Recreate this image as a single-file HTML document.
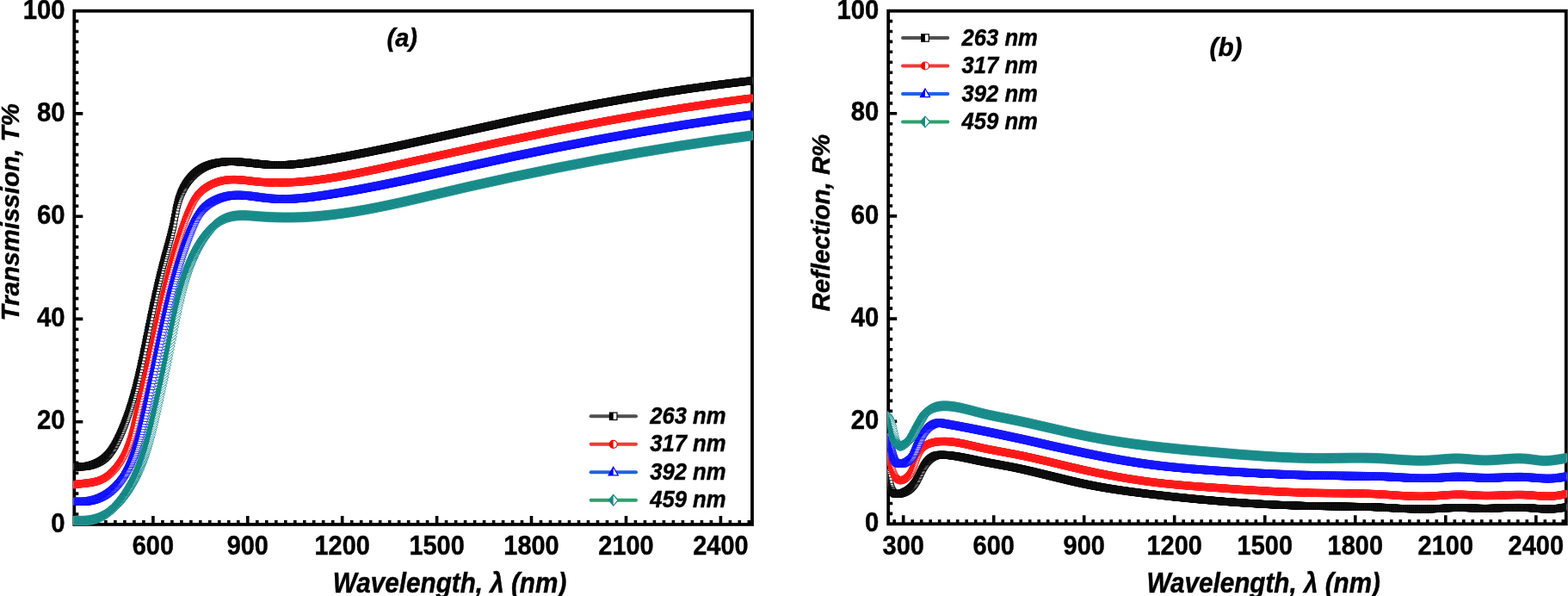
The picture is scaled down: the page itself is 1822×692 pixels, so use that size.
<!DOCTYPE html>
<html><head><meta charset="utf-8"><title>Transmission and Reflection spectra</title>
<style>
html,body{margin:0;padding:0;background:#fff;}
body{width:1822px;height:692px;overflow:hidden;}
svg{display:block;}
text{font-family:"Liberation Sans",Arial,sans-serif;font-weight:bold;fill:#000;stroke:#000;stroke-width:0.45px;}
.it{font-style:italic;}
</style></head><body>
<svg width="1822" height="692" viewBox="0 0 1822 692">
<defs>
<clipPath id="ca"><rect x="85.7" y="12.7" width="788.7" height="597.1"/></clipPath>
<clipPath id="cb"><rect x="1031.6" y="12.7" width="788.6" height="596.5"/></clipPath>
<marker id="mk" markerUnits="userSpaceOnUse" markerWidth="1" markerHeight="1" refX="0" refY="0" orient="0" overflow="visible"><rect x="-3.55" y="-3.85" width="7.10" height="7.70" fill="#fff" stroke="#000000" stroke-width="0.9"/><rect x="-3.55" y="-3.85" width="3.55" height="7.70" fill="#0a0a0a"/></marker>
<marker id="mr" markerUnits="userSpaceOnUse" markerWidth="1" markerHeight="1" refX="0" refY="0" orient="0" overflow="visible"><ellipse rx="3.80" ry="4.20" fill="#fff" stroke="#ff0000" stroke-width="0.8"/><path d="M0,-4.20A3.80,4.20 0 0 0 0,4.20Z" fill="#ff1010"/></marker>
<marker id="mb" markerUnits="userSpaceOnUse" markerWidth="1" markerHeight="1" refX="0" refY="0" orient="0" overflow="visible"><path d="M0,-5.40L5.56,3.60L-5.56,3.60Z" fill="#fff" stroke="#0000ff" stroke-width="0.8" stroke-linejoin="miter"/><path d="M0,-5.40L0,3.60L-5.56,3.60Z" fill="#0a0aff"/></marker>
<marker id="mt" markerUnits="userSpaceOnUse" markerWidth="1" markerHeight="1" refX="0" refY="0" orient="0" overflow="visible"><path d="M0,-5.56L6.16,0L0,5.56L-6.16,0Z" fill="#fff" stroke="#008080" stroke-width="0.8" stroke-linejoin="miter"/><path d="M0,-5.56L0,5.56L-6.16,0Z" fill="#0c8481"/></marker>
</defs>

<g stroke="#000" stroke-width="3.6" fill="none">
<path d="M86.3,597.0h5.0M86.3,585.1h5.0M86.3,573.1h5.0M86.3,561.2h5.0M86.3,549.3h5.0M86.3,537.4h5.0M86.3,525.4h5.0M86.3,513.5h5.0M86.3,501.6h5.0M86.3,489.7h10.0M86.3,477.7h5.0M86.3,465.8h5.0M86.3,453.9h5.0M86.3,442.0h5.0M86.3,430.0h5.0M86.3,418.1h5.0M86.3,406.2h5.0M86.3,394.3h5.0M86.3,382.3h5.0M86.3,370.4h10.0M86.3,358.5h5.0M86.3,346.6h5.0M86.3,334.6h5.0M86.3,322.7h5.0M86.3,310.8h5.0M86.3,298.9h5.0M86.3,287.0h5.0M86.3,275.0h5.0M86.3,263.1h5.0M86.3,251.2h10.0M86.3,239.3h5.0M86.3,227.3h5.0M86.3,215.4h5.0M86.3,203.5h5.0M86.3,191.6h5.0M86.3,179.6h5.0M86.3,167.7h5.0M86.3,155.8h5.0M86.3,143.9h5.0M86.3,131.9h10.0M86.3,120.0h5.0M86.3,108.1h5.0M86.3,96.2h5.0M86.3,84.2h5.0M86.3,72.3h5.0M86.3,60.4h5.0M86.3,48.5h5.0M86.3,36.5h5.0M86.3,24.6h5.0M90.0,608.9v-5.0M101.0,608.9v-5.0M111.9,608.9v-5.0M122.9,608.9v-5.0M133.9,608.9v-5.0M144.9,608.9v-5.0M155.9,608.9v-5.0M166.9,608.9v-5.0M177.9,608.9v-10.0M188.9,608.9v-5.0M199.9,608.9v-5.0M210.9,608.9v-5.0M221.9,608.9v-5.0M232.8,608.9v-5.0M243.8,608.9v-5.0M254.8,608.9v-5.0M265.8,608.9v-5.0M276.8,608.9v-5.0M287.8,608.9v-10.0M298.8,608.9v-5.0M309.8,608.9v-5.0M320.8,608.9v-5.0M331.8,608.9v-5.0M342.8,608.9v-5.0M353.8,608.9v-5.0M364.7,608.9v-5.0M375.7,608.9v-5.0M386.7,608.9v-5.0M397.7,608.9v-10.0M408.7,608.9v-5.0M419.7,608.9v-5.0M430.7,608.9v-5.0M441.7,608.9v-5.0M452.7,608.9v-5.0M463.7,608.9v-5.0M474.7,608.9v-5.0M485.6,608.9v-5.0M496.6,608.9v-5.0M507.6,608.9v-10.0M518.6,608.9v-5.0M529.6,608.9v-5.0M540.6,608.9v-5.0M551.6,608.9v-5.0M562.6,608.9v-5.0M573.6,608.9v-5.0M584.6,608.9v-5.0M595.6,608.9v-5.0M606.5,608.9v-5.0M617.5,608.9v-10.0M628.5,608.9v-5.0M639.5,608.9v-5.0M650.5,608.9v-5.0M661.5,608.9v-5.0M672.5,608.9v-5.0M683.5,608.9v-5.0M694.5,608.9v-5.0M705.5,608.9v-5.0M716.5,608.9v-5.0M727.5,608.9v-10.0M738.4,608.9v-5.0M749.4,608.9v-5.0M760.4,608.9v-5.0M771.4,608.9v-5.0M782.4,608.9v-5.0M793.4,608.9v-5.0M804.4,608.9v-5.0M815.4,608.9v-5.0M826.4,608.9v-5.0M837.4,608.9v-10.0M848.4,608.9v-5.0M859.3,608.9v-5.0M870.3,608.9v-5.0"/>
</g>
<rect x="86.3" y="12.7" width="787.7" height="596.2" fill="none" stroke="#000" stroke-width="3.8"/>
<g clip-path="url(#ca)">
<path d="M83.87,541.19l.73,.14l.73,.12l.73,.11l.73,.10l.73,.08l.73,.07l.73,.06l.73,.05l.73,.04l.73,.02l.73,.01l.73,.00l.73,-.01l.73,-.02l.73,-.03l.73,-.04l.73,-.05l.73,-.06l.73,-.07l.73,-.09l.73,-.10l.73,-.11l.73,-.12l.73,-.13l.73,-.14l.73,-.15l.73,-.16l.73,-.18l.73,-.19l.73,-.20l.73,-.21l.73,-.22l.73,-.24l.73,-.25l.73,-.26l.73,-.28l.73,-.29l.73,-.31l.73,-.32l.73,-.34l.73,-.36l.75,-.38l.75,-.40l.75,-.42l.75,-.44l.75,-.46l.75,-.49l.75,-.52l.76,-.55l.76,-.58l.76,-.61l.76,-.65l.76,-.68l.76,-.72l.76,-.76l.76,-.80l.77,-.85l.77,-.89l.77,-.94l.77,-.99l.77,-1.04l.77,-1.09l.77,-1.14l.77,-1.20l.77,-1.25l.77,-1.30l.77,-1.34l.76,-1.38l.76,-1.42l.75,-1.45l.73,-1.48l.73,-1.51l.73,-1.54l.73,-1.57l.73,-1.60l.73,-1.64l.73,-1.67l.73,-1.71l.73,-1.74l.73,-1.78l.73,-1.82l.73,-1.86l.73,-1.90l.73,-1.95l.73,-1.99l.73,-2.04l.73,-2.08l.73,-2.13l.73,-2.18l.73,-2.23l.73,-2.29l.73,-2.34l.73,-2.40l.73,-2.45l.73,-2.51l.73,-2.57l.73,-2.64l.73,-2.70l.73,-2.76l.73,-2.83l.73,-2.89l.73,-2.96l.73,-3.02l.73,-3.09l.73,-3.15l.73,-3.22l.73,-3.28l.73,-3.33l.73,-3.39l.73,-3.44l.73,-3.49l.73,-3.53l.73,-3.56l.73,-3.58l.73,-3.60l.73,-3.61l.73,-3.62l.73,-3.62l.73,-3.62l.73,-3.61l.73,-3.60l.73,-3.59l.73,-3.57l.73,-3.55l.73,-3.53l.73,-3.50l.73,-3.47l.73,-3.44l.73,-3.40l.73,-3.36l.73,-3.33l.73,-3.29l.73,-3.24l.73,-3.20l.73,-3.16l.73,-3.12l.73,-3.08l.73,-3.03l.73,-2.99l.73,-2.95l.73,-2.91l.73,-2.87l.73,-2.82l.73,-2.78l.73,-2.75l.73,-2.71l.73,-2.68l.73,-2.65l.73,-2.64l.73,-2.64l.73,-2.65l.73,-2.67l.73,-2.70l.73,-2.74l.73,-2.79l.73,-2.86l.73,-2.95l.73,-3.07l.73,-3.22l.73,-3.43l.73,-3.70l.73,-3.89l.73,-3.93l.73,-3.78l.73,-3.50l.73,-3.17l.73,-2.85l.73,-2.56l.73,-2.31l.73,-2.10l.73,-1.92l.73,-1.77l.73,-1.63l.73,-1.52l.68,-1.43l.68,-1.35l.69,-1.28l.69,-1.21l.69,-1.16l.70,-1.11l.70,-1.06l.70,-1.02l.71,-.98l.71,-.95l.71,-.91l.71,-.88l.71,-.85l.71,-.82l.71,-.79l.71,-.76l.71,-.74l.72,-.71l.72,-.69l.72,-.67l.72,-.65l.72,-.62l.72,-.60l.72,-.58l.72,-.56l.72,-.54l.72,-.52l.72,-.50l.72,-.48l.72,-.47l.72,-.45l.72,-.43l.72,-.41l.72,-.40l.72,-.38l.73,-.37l.73,-.35l.73,-.34l.73,-.32l.73,-.31l.73,-.30l.73,-.29l.73,-.27l.73,-.26l.73,-.25l.73,-.24l.73,-.23l.73,-.22l.73,-.21l.73,-.20l.73,-.19l.73,-.18l.73,-.17l.73,-.16l.73,-.15l.73,-.15l.73,-.14l.73,-.13l.73,-.12l.73,-.12l.73,-.11l.73,-.10l.73,-.09l.73,-.09l.73,-.08l.73,-.07l.73,-.07l.73,-.06l.73,-.06l.73,-.05l.73,-.04l.73,-.04l.73,-.03l.73,-.03l.73,-.02l.73,-.02l.73,-.01l.73,-.01l.73,-.00l.73,.00l.73,.01l.73,.01l.73,.02l.73,.02l.73,.02l.73,.03l.73,.03l.73,.04l.73,.04l.73,.04l.73,.05l.73,.05l.73,.05l.73,.06l.73,.06l.73,.06l.73,.06l.73,.07l.73,.07l.73,.07l.73,.07l.73,.07l.73,.07l.73,.08l.73,.08l.73,.08l.73,.08l.73,.08l.73,.08l.73,.08l.73,.08l.73,.08l.73,.08l.73,.08l.73,.08l.73,.08l.73,.08l.73,.08l.73,.08l.73,.08l.73,.08l.73,.08l.73,.08l.73,.08l.73,.07l.73,.07l.73,.07l.73,.07l.73,.07l.73,.07l.73,.06l.73,.06l.73,.06l.73,.06l.73,.06l.73,.05l.73,.05l.73,.05l.73,.05l.73,.04l.73,.04l.73,.04l.73,.03l.73,.03l.73,.03l.73,.02l.73,.02l.73,.02l.73,.01l.73,.01l.73,.01l.73,.01l.73,.00l.73,-.00l.73,-.00l.73,-.01l.73,-.01l.73,-.01l.73,-.01l.73,-.02l.73,-.02l.73,-.02l.73,-.03l.73,-.03l.73,-.03l.73,-.03l.73,-.04l.73,-.04l.73,-.04l.73,-.04l.73,-.05l.73,-.05l.73,-.05l.73,-.05l.73,-.05l.73,-.06l.73,-.06l.73,-.06l.73,-.06l.73,-.07l.73,-.07l.73,-.07l.73,-.07l.73,-.07l.73,-.08l.73,-.08l.73,-.08l.73,-.08l.73,-.08l.73,-.08l.73,-.09l.73,-.09l.73,-.09l.73,-.09l.73,-.09l.73,-.09l.73,-.09l.73,-.10l.73,-.10l.73,-.10l.73,-.10l.73,-.10l.73,-.10l.73,-.10l.73,-.11l.73,-.11l.73,-.11l.73,-.11l.73,-.11l.73,-.11l.73,-.11l.73,-.11l.73,-.11l.73,-.11l.73,-.11l.73,-.12l.73,-.12l.73,-.12l.73,-.12l.73,-.12l.73,-.12l.73,-.12l.73,-.12l.73,-.12l.73,-.12l.73,-.12l.73,-.12l.73,-.12l.73,-.12l.73,-.12l.73,-.12l.73,-.12l.73,-.12l.73,-.12l.73,-.12l.73,-.12l.73,-.12l.73,-.13l.73,-.13l.73,-.13l.73,-.13l.73,-.13l.73,-.13l.73,-.13l.73,-.13l.73,-.13l.73,-.13l.73,-.13l.73,-.13l.73,-.13l.73,-.13l.73,-.13l.73,-.13l.73,-.13l.73,-.13l.73,-.13l.73,-.13l.73,-.13l.73,-.13l.73,-.13l.73,-.13l.73,-.13l.73,-.13l.73,-.13l.73,-.13l.73,-.14l.73,-.14l.73,-.14l.73,-.14l.73,-.14l.73,-.14l.73,-.14l.73,-.14l.73,-.14l.73,-.14l.73,-.14l.73,-.14l.73,-.14l.73,-.14l.73,-.14l.73,-.14l.73,-.14l.73,-.14l.73,-.14l.73,-.14l.73,-.14l.73,-.14l.73,-.14l.73,-.14l.73,-.14l.73,-.14l.73,-.14l.73,-.14l.73,-.14l.73,-.14l.73,-.14l.73,-.14l.73,-.14l.73,-.15l.73,-.15l.73,-.15l.73,-.15l.73,-.15l.73,-.15l.73,-.15l.73,-.15l.73,-.15l.73,-.15l.73,-.15l.73,-.15l.73,-.15l.73,-.15l.73,-.15l.73,-.15l.73,-.15l.73,-.15l.73,-.15l.73,-.15l.73,-.15l.73,-.15l.73,-.15l.73,-.15l.73,-.15l.73,-.15l.73,-.15l.73,-.15l.73,-.15l.73,-.15l.73,-.15l.73,-.15l.73,-.15l.73,-.15l.73,-.15l.73,-.15l.73,-.15l.73,-.15l.73,-.15l.73,-.15l.73,-.15l.73,-.15l.73,-.15l.73,-.15l.73,-.16l.73,-.16l.73,-.16l.73,-.16l.73,-.16l.73,-.16l.73,-.16l.73,-.16l.73,-.16l.73,-.16l.73,-.16l.73,-.16l.73,-.16l.73,-.16l.73,-.16l.73,-.16l.73,-.16l.73,-.16l.73,-.16l.73,-.16l.73,-.16l.73,-.16l.73,-.16l.73,-.16l.73,-.16l.73,-.16l.73,-.16l.73,-.16l.73,-.16l.73,-.16l.73,-.16l.73,-.16l.73,-.16l.73,-.16l.73,-.16l.73,-.16l.73,-.16l.73,-.16l.73,-.16l.73,-.16l.73,-.16l.73,-.16l.73,-.16l.73,-.16l.73,-.16l.73,-.16l.73,-.16l.73,-.16l.73,-.16l.73,-.16l.73,-.16l.73,-.16l.73,-.16l.73,-.16l.73,-.16l.73,-.16l.73,-.16l.73,-.16l.73,-.16l.73,-.16l.73,-.16l.73,-.16l.73,-.16l.73,-.16l.73,-.16l.73,-.16l.73,-.16l.73,-.16l.73,-.16l.73,-.16l.73,-.16l.73,-.16l.73,-.16l.73,-.16l.73,-.16l.73,-.16l.73,-.16l.73,-.16l.73,-.16l.73,-.16l.73,-.16l.73,-.16l.73,-.16l.73,-.16l.73,-.16l.73,-.16l.73,-.16l.73,-.16l.73,-.16l.73,-.16l.73,-.16l.73,-.16l.73,-.16l.73,-.16l.73,-.16l.73,-.16l.73,-.16l.73,-.16l.73,-.16l.73,-.16l.73,-.16l.73,-.16l.73,-.16l.73,-.16l.73,-.16l.73,-.16l.73,-.16l.73,-.16l.73,-.16l.73,-.16l.73,-.16l.73,-.16l.73,-.16l.73,-.16l.73,-.16l.73,-.16l.73,-.16l.73,-.16l.73,-.16l.73,-.16l.73,-.16l.73,-.16l.73,-.16l.73,-.16l.73,-.16l.73,-.16l.73,-.16l.73,-.16l.73,-.16l.73,-.16l.73,-.16l.73,-.16l.73,-.16l.73,-.16l.73,-.16l.73,-.16l.73,-.16l.73,-.16l.73,-.16l.73,-.16l.73,-.16l.73,-.16l.73,-.16l.73,-.16l.73,-.16l.73,-.16l.73,-.16l.73,-.16l.73,-.16l.73,-.16l.73,-.16l.73,-.16l.73,-.16l.73,-.16l.73,-.16l.73,-.16l.73,-.16l.73,-.16l.73,-.16l.73,-.16l.73,-.16l.73,-.16l.73,-.16l.73,-.16l.73,-.16l.73,-.16l.73,-.16l.73,-.16l.73,-.16l.73,-.16l.73,-.16l.73,-.16l.73,-.16l.73,-.16l.73,-.16l.73,-.16l.73,-.16l.73,-.16l.73,-.16l.73,-.16l.73,-.16l.73,-.16l.73,-.16l.73,-.16l.73,-.16l.73,-.16l.73,-.16l.73,-.16l.73,-.16l.73,-.16l.73,-.16l.73,-.16l.73,-.16l.73,-.16l.73,-.15l.73,-.15l.73,-.15l.73,-.15l.73,-.15l.73,-.15l.73,-.15l.73,-.15l.73,-.15l.73,-.15l.73,-.15l.73,-.15l.73,-.15l.73,-.15l.73,-.15l.73,-.15l.73,-.15l.73,-.15l.73,-.15l.73,-.15l.73,-.15l.73,-.15l.73,-.15l.73,-.15l.73,-.15l.73,-.15l.73,-.15l.73,-.15l.73,-.15l.73,-.15l.73,-.15l.73,-.15l.73,-.15l.73,-.15l.73,-.15l.73,-.15l.73,-.15l.73,-.15l.73,-.15l.73,-.15l.73,-.15l.73,-.15l.73,-.15l.73,-.15l.73,-.15l.73,-.15l.73,-.15l.73,-.15l.73,-.15l.73,-.15l.73,-.15l.73,-.15l.73,-.15l.73,-.15l.73,-.15l.73,-.15l.73,-.15l.73,-.15l.73,-.15l.73,-.15l.73,-.15l.73,-.15l.73,-.15l.73,-.15l.73,-.15l.73,-.15l.73,-.14l.73,-.14l.73,-.14l.73,-.14l.73,-.14l.73,-.14l.73,-.14l.73,-.14l.73,-.14l.73,-.14l.73,-.14l.73,-.14l.73,-.14l.73,-.14l.73,-.14l.73,-.14l.73,-.14l.73,-.14l.73,-.14l.73,-.14l.73,-.14l.73,-.14l.73,-.14l.73,-.14l.73,-.14l.73,-.14l.73,-.14l.73,-.14l.73,-.14l.73,-.14l.73,-.14l.73,-.14l.73,-.14l.73,-.14l.73,-.14l.73,-.14l.73,-.14l.73,-.14l.73,-.14l.73,-.14l.73,-.14l.73,-.14l.73,-.14l.73,-.14l.73,-.14l.73,-.14l.73,-.14l.73,-.14l.73,-.14l.73,-.14l.73,-.14l.73,-.14l.73,-.14l.73,-.14l.73,-.14l.73,-.14l.73,-.14l.73,-.14l.73,-.13l.73,-.13l.73,-.13l.73,-.13l.73,-.13l.73,-.13l.73,-.13l.73,-.13l.73,-.13l.73,-.13l.73,-.13l.73,-.13l.73,-.13l.73,-.13l.73,-.13l.73,-.13l.73,-.13l.73,-.13l.73,-.13l.73,-.13l.73,-.13l.73,-.13l.73,-.13l.73,-.13l.73,-.13l.73,-.13l.73,-.13l.73,-.13l.73,-.13l.73,-.13l.73,-.13l.73,-.13l.73,-.13l.73,-.13l.73,-.13l.73,-.13l.73,-.13l.73,-.13l.73,-.13l.73,-.13l.73,-.13l.73,-.13l.73,-.13l.73,-.13l.73,-.13l.73,-.13l.73,-.13l.73,-.13l.73,-.13l.73,-.13l.73,-.13l.73,-.13l.73,-.12l.73,-.12l.73,-.12l.73,-.12l.73,-.12l.73,-.12l.73,-.12l.73,-.12l.73,-.12l.73,-.12l.73,-.12l.73,-.12l.73,-.12l.73,-.12l.73,-.12l.73,-.12l.73,-.12l.73,-.12l.73,-.12l.73,-.12l.73,-.12l.73,-.12l.73,-.12l.73,-.12l.73,-.12l.73,-.12l.73,-.12l.73,-.12l.73,-.12l.73,-.12l.73,-.12l.73,-.12l.73,-.12l.73,-.12l.73,-.12l.73,-.12l.73,-.12l.73,-.12l.73,-.12l.73,-.12l.73,-.12l.73,-.12l.73,-.12l.73,-.12l.73,-.12l.73,-.12l.73,-.12l.73,-.12l.73,-.12l.73,-.11l.73,-.11l.73,-.11l.73,-.11l.73,-.11l.73,-.11l.73,-.11l.73,-.11l.73,-.11l.73,-.11l.73,-.11l.73,-.11l.73,-.11l.73,-.11l.73,-.11l.73,-.11l.73,-.11l.73,-.11l.73,-.11l.73,-.11l.73,-.11l.73,-.11l.73,-.11l.73,-.11l.73,-.11l.73,-.11l.73,-.11l.73,-.11l.73,-.11l.73,-.11l.73,-.11l.73,-.11l.73,-.11l.73,-.11l.73,-.11l.73,-.11l.73,-.11l.73,-.11l.73,-.11l.73,-.11l.73,-.11l.73,-.11l.73,-.11l.73,-.11l.73,-.11l.73,-.11l.73,-.10l.73,-.10l.73,-.10l.73,-.10l.73,-.10l.73,-.10l.73,-.10l.73,-.10l.73,-.10l.73,-.10l.73,-.10l.73,-.10l.73,-.10l.73,-.10l.73,-.10l.73,-.10l.73,-.10l.73,-.10l.73,-.10l.73,-.10l.73,-.10l.73,-.10l.73,-.10l.73,-.10l.73,-.10l.73,-.10l.73,-.10l.73,-.10l.73,-.10l.73,-.10l.73,-.10l.73,-.10l.73,-.10l.73,-.10l.73,-.10l.73,-.10l.73,-.10l.73,-.10l.73,-.10l.73,-.10l.73,-.10l.73,-.10l.73,-.10l.73,-.10l.73,-.09l.73,-.09l.73,-.09l.73,-.09l.73,-.09l.73,-.09l.73,-.09l.73,-.09l.73,-.09l.73,-.09l.73,-.09l.73,-.09l.73,-.09l.73,-.09l.73,-.09l.73,-.09l.73,-.09l.73,-.09l.73,-.09l.73,-.09l.73,-.09l.73,-.09l.73,-.09l.73,-.09l.73,-.09l.73,-.09l.73,-.09l.73,-.09l.73,-.09l.73,-.09l.73,-.09l.73,-.09l.73,-.09l.73,-.09l.73,-.09l.73,-.09l.73,-.09l.73,-.09l.73,-.09l.73,-.09l.73,-.09l.73,-.09l.73,-.08l.73,-.08l.73,-.08l.73,-.08l.73,-.08l.73,-.08l.73,-.08l.73,-.08l.73,-.08l.73,-.08l.73,-.08l.73,-.08l.73,-.08l.73,-.08l.73,-.08l.73,-.08l.73,-.08l.73,-.08l.73,-.08l.73,-.08l.73,-.08l.73,-.08l.73,-.08l.73,-.08" fill="none" stroke="none" marker-start="url(#mk)" marker-mid="url(#mk)" marker-end="url(#mk)"/>
<path d="M83.78,563.10l.73,-.13l.73,-.12l.73,-.12l.73,-.11l.73,-.11l.73,-.10l.73,-.10l.73,-.09l.73,-.09l.73,-.09l.73,-.08l.73,-.08l.73,-.08l.73,-.08l.73,-.08l.73,-.08l.73,-.08l.73,-.08l.73,-.08l.73,-.08l.73,-.08l.73,-.08l.73,-.08l.73,-.09l.73,-.09l.73,-.09l.73,-.10l.73,-.10l.73,-.11l.73,-.12l.73,-.12l.73,-.13l.73,-.14l.73,-.14l.73,-.15l.73,-.16l.73,-.17l.73,-.19l.73,-.20l.73,-.21l.73,-.22l.73,-.24l.73,-.26l.73,-.27l.73,-.29l.73,-.31l.73,-.33l.73,-.35l.76,-.38l.77,-.40l.77,-.43l.77,-.45l.77,-.48l.77,-.50l.77,-.53l.77,-.56l.77,-.58l.77,-.61l.77,-.64l.77,-.67l.77,-.70l.77,-.72l.77,-.76l.78,-.79l.78,-.82l.78,-.85l.78,-.88l.78,-.92l.78,-.95l.78,-.99l.78,-1.02l.78,-1.06l.78,-1.10l.79,-1.13l.79,-1.17l.79,-1.21l.79,-1.26l.80,-1.30l.80,-1.35l.80,-1.40l.79,-1.45l.73,-1.51l.73,-1.57l.73,-1.64l.73,-1.71l.73,-1.79l.73,-1.87l.73,-1.96l.73,-2.06l.73,-2.16l.73,-2.27l.73,-2.38l.73,-2.50l.73,-2.62l.73,-2.74l.73,-2.86l.73,-2.96l.73,-3.05l.73,-3.12l.73,-3.16l.73,-3.17l.73,-3.15l.73,-3.13l.73,-3.12l.73,-3.11l.73,-3.10l.73,-3.09l.73,-3.09l.73,-3.10l.73,-3.11l.73,-3.12l.73,-3.13l.73,-3.15l.73,-3.17l.73,-3.20l.73,-3.23l.73,-3.25l.73,-3.28l.73,-3.30l.73,-3.32l.73,-3.34l.73,-3.36l.73,-3.37l.73,-3.38l.73,-3.39l.73,-3.40l.73,-3.41l.73,-3.41l.73,-3.41l.73,-3.40l.73,-3.40l.73,-3.39l.73,-3.38l.73,-3.36l.73,-3.35l.73,-3.33l.73,-3.31l.73,-3.29l.73,-3.26l.73,-3.24l.73,-3.21l.73,-3.18l.73,-3.15l.73,-3.12l.73,-3.08l.73,-3.05l.73,-3.02l.73,-2.98l.73,-2.94l.73,-2.91l.73,-2.87l.73,-2.84l.73,-2.80l.73,-2.77l.73,-2.73l.73,-2.69l.73,-2.66l.73,-2.62l.73,-2.59l.73,-2.55l.73,-2.52l.73,-2.49l.73,-2.45l.73,-2.42l.73,-2.39l.73,-2.36l.73,-2.33l.73,-2.30l.73,-2.27l.73,-2.24l.73,-2.21l.73,-2.18l.73,-2.15l.73,-2.13l.73,-2.10l.73,-2.08l.73,-2.05l.73,-2.01l.73,-1.96l.73,-1.91l.73,-1.85l.73,-1.79l.73,-1.73l.73,-1.67l.73,-1.61l.73,-1.55l.72,-1.48l.65,-1.42l.65,-1.36l.65,-1.31l.65,-1.25l.66,-1.19l.66,-1.14l.66,-1.08l.67,-1.04l.67,-.99l.67,-.94l.68,-.90l.68,-.86l.68,-.82l.68,-.78l.69,-.75l.69,-.72l.69,-.68l.69,-.65l.70,-.63l.70,-.60l.70,-.58l.70,-.56l.71,-.54l.71,-.52l.71,-.50l.71,-.48l.71,-.46l.71,-.45l.71,-.43l.71,-.42l.71,-.40l.71,-.39l.71,-.38l.73,-.36l.73,-.35l.73,-.34l.73,-.33l.73,-.31l.73,-.30l.73,-.29l.73,-.28l.73,-.27l.73,-.26l.73,-.24l.73,-.23l.73,-.22l.73,-.21l.73,-.20l.73,-.19l.73,-.18l.73,-.17l.73,-.16l.73,-.15l.73,-.14l.73,-.13l.73,-.12l.73,-.11l.73,-.10l.73,-.09l.73,-.08l.73,-.07l.73,-.06l.73,-.05l.73,-.05l.73,-.04l.73,-.03l.73,-.02l.73,-.02l.73,-.01l.73,-.00l.73,.00l.73,.01l.73,.02l.73,.02l.73,.03l.73,.03l.73,.04l.73,.04l.73,.05l.73,.05l.73,.05l.73,.06l.73,.06l.73,.06l.73,.07l.73,.07l.73,.07l.73,.08l.73,.08l.73,.08l.73,.08l.73,.08l.73,.08l.73,.08l.73,.09l.73,.09l.73,.09l.73,.09l.73,.09l.73,.09l.73,.08l.73,.08l.73,.08l.73,.08l.73,.08l.73,.08l.73,.08l.73,.07l.73,.07l.73,.07l.73,.07l.73,.06l.73,.06l.73,.06l.73,.06l.73,.05l.73,.05l.73,.05l.73,.05l.73,.04l.73,.04l.73,.04l.73,.04l.73,.04l.73,.03l.73,.03l.73,.03l.73,.03l.73,.02l.73,.02l.73,.02l.73,.02l.73,.02l.73,.01l.73,.01l.73,.01l.73,.01l.73,.01l.73,.00l.73,.00l.73,-.00l.73,-.00l.73,-.00l.73,-.01l.73,-.01l.73,-.01l.73,-.01l.73,-.01l.73,-.02l.73,-.02l.73,-.02l.73,-.02l.73,-.02l.73,-.02l.73,-.03l.73,-.03l.73,-.03l.73,-.03l.73,-.03l.73,-.03l.73,-.04l.73,-.04l.73,-.04l.73,-.04l.73,-.04l.73,-.04l.73,-.05l.73,-.05l.73,-.05l.73,-.05l.73,-.05l.73,-.05l.73,-.05l.73,-.06l.73,-.06l.73,-.06l.73,-.06l.73,-.06l.73,-.06l.73,-.06l.73,-.07l.73,-.07l.73,-.07l.73,-.07l.73,-.07l.73,-.07l.73,-.07l.73,-.07l.73,-.08l.73,-.08l.73,-.08l.73,-.08l.73,-.08l.73,-.08l.73,-.08l.73,-.08l.73,-.09l.73,-.09l.73,-.09l.73,-.09l.73,-.09l.73,-.09l.73,-.09l.73,-.09l.73,-.09l.73,-.10l.73,-.10l.73,-.10l.73,-.10l.73,-.10l.73,-.10l.73,-.10l.73,-.10l.73,-.10l.73,-.11l.73,-.11l.73,-.11l.73,-.11l.73,-.11l.73,-.11l.73,-.11l.73,-.11l.73,-.11l.73,-.11l.73,-.12l.73,-.12l.73,-.12l.73,-.12l.73,-.12l.73,-.12l.73,-.12l.73,-.12l.73,-.12l.73,-.12l.73,-.12l.73,-.12l.73,-.13l.73,-.13l.73,-.13l.73,-.13l.73,-.13l.73,-.13l.73,-.13l.73,-.13l.73,-.13l.73,-.13l.73,-.13l.73,-.13l.73,-.13l.73,-.13l.73,-.14l.73,-.14l.73,-.14l.73,-.14l.73,-.14l.73,-.14l.73,-.14l.73,-.14l.73,-.14l.73,-.14l.73,-.14l.73,-.14l.73,-.14l.73,-.14l.73,-.14l.73,-.14l.73,-.14l.73,-.14l.73,-.15l.73,-.15l.73,-.15l.73,-.15l.73,-.15l.73,-.15l.73,-.15l.73,-.15l.73,-.15l.73,-.15l.73,-.15l.73,-.15l.73,-.15l.73,-.15l.73,-.15l.73,-.15l.73,-.15l.73,-.15l.73,-.15l.73,-.15l.73,-.15l.73,-.15l.73,-.15l.73,-.15l.73,-.15l.73,-.15l.73,-.15l.73,-.15l.73,-.15l.73,-.15l.73,-.16l.73,-.16l.73,-.16l.73,-.16l.73,-.16l.73,-.16l.73,-.16l.73,-.16l.73,-.16l.73,-.16l.73,-.16l.73,-.16l.73,-.16l.73,-.16l.73,-.16l.73,-.16l.73,-.16l.73,-.16l.73,-.16l.73,-.16l.73,-.16l.73,-.16l.73,-.16l.73,-.16l.73,-.16l.73,-.16l.73,-.16l.73,-.16l.73,-.16l.73,-.16l.73,-.16l.73,-.16l.73,-.16l.73,-.16l.73,-.16l.73,-.16l.73,-.16l.73,-.16l.73,-.16l.73,-.16l.73,-.16l.73,-.16l.73,-.16l.73,-.16l.73,-.16l.73,-.16l.73,-.16l.73,-.16l.73,-.16l.73,-.16l.73,-.16l.73,-.16l.73,-.16l.73,-.16l.73,-.16l.73,-.16l.73,-.16l.73,-.16l.73,-.16l.73,-.16l.73,-.16l.73,-.16l.73,-.16l.73,-.16l.73,-.16l.73,-.16l.73,-.16l.73,-.16l.73,-.16l.73,-.16l.73,-.16l.73,-.16l.73,-.16l.73,-.16l.73,-.16l.73,-.16l.73,-.16l.73,-.16l.73,-.16l.73,-.16l.73,-.16l.73,-.16l.73,-.16l.73,-.16l.73,-.16l.73,-.16l.73,-.16l.73,-.16l.73,-.16l.73,-.16l.73,-.16l.73,-.16l.73,-.16l.73,-.16l.73,-.16l.73,-.16l.73,-.16l.73,-.16l.73,-.16l.73,-.16l.73,-.16l.73,-.16l.73,-.16l.73,-.16l.73,-.16l.73,-.16l.73,-.16l.73,-.16l.73,-.16l.73,-.16l.73,-.16l.73,-.16l.73,-.16l.73,-.16l.73,-.16l.73,-.16l.73,-.16l.73,-.16l.73,-.16l.73,-.16l.73,-.16l.73,-.16l.73,-.16l.73,-.16l.73,-.16l.73,-.16l.73,-.16l.73,-.16l.73,-.16l.73,-.16l.73,-.16l.73,-.16l.73,-.16l.73,-.16l.73,-.16l.73,-.16l.73,-.16l.73,-.16l.73,-.16l.73,-.16l.73,-.16l.73,-.16l.73,-.16l.73,-.16l.73,-.16l.73,-.16l.73,-.16l.73,-.16l.73,-.16l.73,-.16l.73,-.16l.73,-.16l.73,-.16l.73,-.16l.73,-.16l.73,-.16l.73,-.16l.73,-.16l.73,-.16l.73,-.16l.73,-.16l.73,-.16l.73,-.16l.73,-.16l.73,-.16l.73,-.16l.73,-.16l.73,-.16l.73,-.16l.73,-.16l.73,-.16l.73,-.16l.73,-.16l.73,-.16l.73,-.16l.73,-.16l.73,-.16l.73,-.16l.73,-.16l.73,-.16l.73,-.16l.73,-.16l.73,-.16l.73,-.16l.73,-.16l.73,-.16l.73,-.16l.73,-.16l.73,-.16l.73,-.16l.73,-.16l.73,-.16l.73,-.16l.73,-.16l.73,-.15l.73,-.15l.73,-.15l.73,-.15l.73,-.15l.73,-.15l.73,-.15l.73,-.15l.73,-.15l.73,-.15l.73,-.15l.73,-.15l.73,-.15l.73,-.15l.73,-.15l.73,-.15l.73,-.15l.73,-.15l.73,-.15l.73,-.15l.73,-.15l.73,-.15l.73,-.15l.73,-.15l.73,-.15l.73,-.15l.73,-.15l.73,-.15l.73,-.15l.73,-.15l.73,-.15l.73,-.15l.73,-.15l.73,-.15l.73,-.15l.73,-.15l.73,-.15l.73,-.15l.73,-.15l.73,-.15l.73,-.15l.73,-.15l.73,-.15l.73,-.15l.73,-.15l.73,-.15l.73,-.15l.73,-.15l.73,-.15l.73,-.15l.73,-.15l.73,-.15l.73,-.15l.73,-.15l.73,-.15l.73,-.15l.73,-.15l.73,-.15l.73,-.15l.73,-.15l.73,-.15l.73,-.15l.73,-.15l.73,-.15l.73,-.15l.73,-.15l.73,-.15l.73,-.15l.73,-.15l.73,-.15l.73,-.15l.73,-.15l.73,-.15l.73,-.15l.73,-.15l.73,-.15l.73,-.15l.73,-.15l.73,-.15l.73,-.15l.73,-.15l.73,-.15l.73,-.15l.73,-.15l.73,-.15l.73,-.15l.73,-.15l.73,-.15l.73,-.15l.73,-.15l.73,-.15l.73,-.15l.73,-.15l.73,-.15l.73,-.14l.73,-.14l.73,-.14l.73,-.14l.73,-.14l.73,-.14l.73,-.14l.73,-.14l.73,-.14l.73,-.14l.73,-.14l.73,-.14l.73,-.14l.73,-.14l.73,-.14l.73,-.14l.73,-.14l.73,-.14l.73,-.14l.73,-.14l.73,-.14l.73,-.14l.73,-.14l.73,-.14l.73,-.14l.73,-.14l.73,-.14l.73,-.14l.73,-.14l.73,-.14l.73,-.14l.73,-.14l.73,-.14l.73,-.14l.73,-.14l.73,-.14l.73,-.14l.73,-.14l.73,-.14l.73,-.14l.73,-.14l.73,-.14l.73,-.14l.73,-.14l.73,-.14l.73,-.14l.73,-.14l.73,-.14l.73,-.14l.73,-.14l.73,-.14l.73,-.14l.73,-.14l.73,-.14l.73,-.14l.73,-.14l.73,-.14l.73,-.14l.73,-.14l.73,-.14l.73,-.14l.73,-.14l.73,-.14l.73,-.14l.73,-.14l.73,-.14l.73,-.14l.73,-.14l.73,-.14l.73,-.14l.73,-.14l.73,-.14l.73,-.14l.73,-.14l.73,-.13l.73,-.13l.73,-.13l.73,-.13l.73,-.13l.73,-.13l.73,-.13l.73,-.13l.73,-.13l.73,-.13l.73,-.13l.73,-.13l.73,-.13l.73,-.13l.73,-.13l.73,-.13l.73,-.13l.73,-.13l.73,-.13l.73,-.13l.73,-.13l.73,-.13l.73,-.13l.73,-.13l.73,-.13l.73,-.13l.73,-.13l.73,-.13l.73,-.13l.73,-.13l.73,-.13l.73,-.13l.73,-.13l.73,-.13l.73,-.13l.73,-.13l.73,-.13l.73,-.13l.73,-.13l.73,-.13l.73,-.13l.73,-.13l.73,-.13l.73,-.13l.73,-.13l.73,-.13l.73,-.13l.73,-.13l.73,-.13l.73,-.13l.73,-.13l.73,-.13l.73,-.13l.73,-.13l.73,-.13l.73,-.13l.73,-.13l.73,-.13l.73,-.13l.73,-.13l.73,-.13l.73,-.13l.73,-.13l.73,-.12l.73,-.12l.73,-.12l.73,-.12l.73,-.12l.73,-.12l.73,-.12l.73,-.12l.73,-.12l.73,-.12l.73,-.12l.73,-.12l.73,-.12l.73,-.12l.73,-.12l.73,-.12l.73,-.12l.73,-.12l.73,-.12l.73,-.12l.73,-.12l.73,-.12l.73,-.12l.73,-.12l.73,-.12l.73,-.12l.73,-.12l.73,-.12l.73,-.12l.73,-.12l.73,-.12l.73,-.12l.73,-.12l.73,-.12l.73,-.12l.73,-.12l.73,-.12l.73,-.12l.73,-.12l.73,-.12l.73,-.12l.73,-.12l.73,-.12l.73,-.12l.73,-.12l.73,-.12l.73,-.12l.73,-.12l.73,-.12l.73,-.12l.73,-.12l.73,-.12l.73,-.12l.73,-.12l.73,-.12l.73,-.12l.73,-.12l.73,-.11l.73,-.11l.73,-.11l.73,-.11l.73,-.11l.73,-.11l.73,-.11l.73,-.11l.73,-.11l.73,-.11l.73,-.11l.73,-.11l.73,-.11l.73,-.11l.73,-.11l.73,-.11l.73,-.11l.73,-.11l.73,-.11l.73,-.11l.73,-.11l.73,-.11l.73,-.11l.73,-.11l.73,-.11l.73,-.11l.73,-.11l.73,-.11l.73,-.11l.73,-.11l.73,-.11l.73,-.11l.73,-.11l.73,-.11l.73,-.11l.73,-.11l.73,-.11l.73,-.11l.73,-.11l.73,-.11l.73,-.11l.73,-.11l.73,-.11l.73,-.11l.73,-.11l.73,-.11l.73,-.11l.73,-.11l.73,-.11l.73,-.11l.73,-.11l.73,-.11l.73,-.10l.73,-.10l.73,-.10l.73,-.10l.73,-.10l.73,-.10l.73,-.10l.73,-.10l.73,-.10l.73,-.10l.73,-.10l.73,-.10l.73,-.10l.73,-.10l.73,-.10l.73,-.10l.73,-.10l.73,-.10l.73,-.10l.73,-.10l.73,-.10l.73,-.10l.73,-.10l.73,-.10l.73,-.10l.73,-.10l.73,-.10l.73,-.10l.73,-.10l.73,-.10l.73,-.10l.73,-.10l.73,-.10l.73,-.10l.73,-.10l.73,-.10l.73,-.10l.73,-.10l.73,-.10l.73,-.10l.73,-.10l.73,-.10l.73,-.10l.73,-.10l.73,-.10l.73,-.10l.73,-.10l.73,-.10l.73,-.10l.73,-.09l.73,-.09l.73,-.09l.73,-.09l.73,-.09l.73,-.09l.73,-.09l.73,-.09l.73,-.09l.73,-.09l.73,-.09l.73,-.09l.73,-.09l.73,-.09l.73,-.09l.73,-.09l.73,-.09l.73,-.09l.73,-.09l.73,-.09l.73,-.09l.73,-.09l.73,-.09" fill="none" stroke="none" marker-start="url(#mr)" marker-mid="url(#mr)" marker-end="url(#mr)"/>
<path d="M82.97,582.29l.73,.10l.73,.09l.73,.08l.73,.07l.73,.07l.73,.06l.73,.05l.73,.04l.73,.03l.73,.02l.73,.02l.73,.01l.73,-.00l.73,-.01l.73,-.02l.73,-.03l.73,-.04l.73,-.05l.73,-.05l.73,-.06l.73,-.07l.73,-.08l.73,-.09l.73,-.10l.73,-.11l.73,-.12l.73,-.13l.73,-.14l.73,-.15l.73,-.17l.73,-.18l.73,-.19l.73,-.20l.73,-.21l.73,-.22l.73,-.23l.73,-.25l.73,-.26l.73,-.27l.73,-.28l.73,-.30l.73,-.31l.73,-.32l.73,-.34l.73,-.35l.73,-.36l.73,-.38l.73,-.39l.73,-.41l.73,-.42l.73,-.44l.73,-.45l.73,-.47l.73,-.49l.73,-.50l.73,-.52l.73,-.54l.73,-.55l.73,-.57l.73,-.59l.73,-.61l.73,-.63l.73,-.65l.73,-.67l.73,-.69l.73,-.71l.73,-.73l.73,-.75l.73,-.77l.73,-.79l.73,-.82l.73,-.84l.73,-.87l.73,-.89l.73,-.91l.73,-.94l.73,-.97l.73,-.99l.73,-1.02l.72,-1.05l.72,-1.08l.72,-1.11l.72,-1.14l.72,-1.18l.72,-1.21l.72,-1.25l.72,-1.29l.72,-1.33l.72,-1.37l.72,-1.41l.72,-1.46l.73,-1.50l.73,-1.55l.73,-1.60l.73,-1.66l.73,-1.71l.73,-1.77l.73,-1.83l.73,-1.90l.73,-1.97l.73,-2.04l.73,-2.11l.73,-2.19l.73,-2.26l.73,-2.35l.73,-2.43l.73,-2.52l.73,-2.60l.73,-2.69l.73,-2.78l.73,-2.87l.73,-2.95l.73,-3.03l.73,-3.10l.73,-3.16l.73,-3.21l.73,-3.25l.73,-3.28l.73,-3.31l.73,-3.34l.73,-3.36l.73,-3.38l.73,-3.41l.73,-3.43l.73,-3.45l.73,-3.47l.73,-3.49l.73,-3.50l.73,-3.51l.73,-3.53l.73,-3.53l.73,-3.54l.73,-3.55l.73,-3.55l.73,-3.55l.73,-3.55l.73,-3.54l.73,-3.53l.73,-3.52l.73,-3.51l.73,-3.50l.73,-3.48l.73,-3.47l.73,-3.44l.73,-3.42l.73,-3.40l.73,-3.37l.73,-3.34l.73,-3.31l.73,-3.28l.73,-3.24l.73,-3.21l.73,-3.18l.73,-3.14l.73,-3.10l.73,-3.07l.73,-3.03l.73,-2.99l.73,-2.96l.73,-2.92l.73,-2.88l.73,-2.84l.73,-2.80l.73,-2.76l.73,-2.72l.73,-2.68l.73,-2.64l.73,-2.60l.73,-2.56l.73,-2.52l.73,-2.48l.73,-2.44l.73,-2.40l.73,-2.36l.73,-2.32l.73,-2.28l.73,-2.24l.73,-2.21l.73,-2.17l.73,-2.13l.73,-2.10l.73,-2.06l.73,-2.03l.73,-2.00l.73,-1.96l.73,-1.93l.73,-1.90l.73,-1.87l.73,-1.84l.73,-1.81l.73,-1.78l.73,-1.75l.73,-1.72l.73,-1.69l.73,-1.65l.73,-1.59l.73,-1.51l.75,-1.43l.76,-1.35l.76,-1.26l.75,-1.18l.75,-1.10l.75,-1.03l.75,-.96l.75,-.90l.75,-.84l.75,-.79l.74,-.74l.74,-.70l.74,-.67l.74,-.64l.74,-.61l.74,-.58l.74,-.56l.74,-.53l.74,-.51l.74,-.49l.74,-.47l.74,-.45l.74,-.44l.74,-.42l.74,-.41l.74,-.39l.74,-.38l.73,-.36l.73,-.35l.73,-.34l.73,-.33l.73,-.31l.73,-.30l.73,-.29l.73,-.28l.73,-.27l.73,-.26l.73,-.25l.73,-.24l.73,-.23l.73,-.22l.73,-.21l.73,-.20l.73,-.19l.73,-.18l.73,-.17l.73,-.16l.73,-.15l.73,-.14l.73,-.13l.73,-.12l.73,-.12l.73,-.11l.73,-.10l.73,-.09l.73,-.08l.73,-.08l.73,-.07l.73,-.06l.73,-.05l.73,-.05l.73,-.04l.73,-.03l.73,-.03l.73,-.02l.73,-.01l.73,-.01l.73,-.00l.73,.00l.73,.01l.73,.02l.73,.02l.73,.03l.73,.03l.73,.04l.73,.04l.73,.04l.73,.05l.73,.05l.73,.06l.73,.06l.73,.06l.73,.07l.73,.07l.73,.07l.73,.08l.73,.08l.73,.08l.73,.08l.73,.09l.73,.09l.73,.09l.73,.09l.73,.09l.73,.09l.73,.09l.73,.10l.73,.10l.73,.10l.73,.10l.73,.10l.73,.10l.73,.10l.73,.10l.73,.10l.73,.10l.73,.10l.73,.09l.73,.09l.73,.09l.73,.09l.73,.09l.73,.09l.73,.09l.73,.08l.73,.08l.73,.08l.73,.08l.73,.07l.73,.07l.73,.07l.73,.06l.73,.06l.73,.06l.73,.05l.73,.05l.73,.05l.73,.04l.73,.04l.73,.04l.73,.03l.73,.03l.73,.02l.73,.02l.73,.02l.73,.01l.73,.01l.73,.01l.73,.01l.73,.00l.73,-.00l.73,-.00l.73,-.01l.73,-.01l.73,-.01l.73,-.02l.73,-.02l.73,-.02l.73,-.02l.73,-.03l.73,-.03l.73,-.03l.73,-.04l.73,-.04l.73,-.04l.73,-.04l.73,-.04l.73,-.05l.73,-.05l.73,-.05l.73,-.05l.73,-.06l.73,-.06l.73,-.06l.73,-.06l.73,-.06l.73,-.07l.73,-.07l.73,-.07l.73,-.07l.73,-.07l.73,-.08l.73,-.08l.73,-.08l.73,-.08l.73,-.08l.73,-.08l.73,-.09l.73,-.09l.73,-.09l.73,-.09l.73,-.09l.73,-.09l.73,-.09l.73,-.10l.73,-.10l.73,-.10l.73,-.10l.73,-.10l.73,-.10l.73,-.10l.73,-.10l.73,-.10l.73,-.11l.73,-.11l.73,-.11l.73,-.11l.73,-.11l.73,-.11l.73,-.11l.73,-.11l.73,-.11l.73,-.11l.73,-.11l.73,-.11l.73,-.11l.73,-.11l.73,-.11l.73,-.11l.73,-.11l.73,-.11l.73,-.12l.73,-.12l.73,-.12l.73,-.12l.73,-.12l.73,-.12l.73,-.12l.73,-.12l.73,-.12l.73,-.12l.73,-.12l.73,-.12l.73,-.12l.73,-.12l.73,-.12l.73,-.12l.73,-.12l.73,-.12l.73,-.12l.73,-.12l.73,-.12l.73,-.12l.73,-.12l.73,-.13l.73,-.13l.73,-.13l.73,-.13l.73,-.13l.73,-.13l.73,-.13l.73,-.13l.73,-.13l.73,-.13l.73,-.13l.73,-.13l.73,-.13l.73,-.13l.73,-.13l.73,-.13l.73,-.13l.73,-.13l.73,-.13l.73,-.13l.73,-.13l.73,-.13l.73,-.13l.73,-.13l.73,-.13l.73,-.14l.73,-.14l.73,-.14l.73,-.14l.73,-.14l.73,-.14l.73,-.14l.73,-.14l.73,-.14l.73,-.14l.73,-.14l.73,-.14l.73,-.14l.73,-.14l.73,-.14l.73,-.14l.73,-.14l.73,-.14l.73,-.14l.73,-.14l.73,-.14l.73,-.14l.73,-.14l.73,-.14l.73,-.14l.73,-.14l.73,-.14l.73,-.14l.73,-.14l.73,-.14l.73,-.14l.73,-.15l.73,-.15l.73,-.15l.73,-.15l.73,-.15l.73,-.15l.73,-.15l.73,-.15l.73,-.15l.73,-.15l.73,-.15l.73,-.15l.73,-.15l.73,-.15l.73,-.15l.73,-.15l.73,-.15l.73,-.15l.73,-.15l.73,-.15l.73,-.15l.73,-.15l.73,-.15l.73,-.15l.73,-.15l.73,-.15l.73,-.15l.73,-.15l.73,-.15l.73,-.15l.73,-.15l.73,-.15l.73,-.15l.73,-.15l.73,-.15l.73,-.15l.73,-.15l.73,-.15l.73,-.15l.73,-.15l.73,-.16l.73,-.16l.73,-.16l.73,-.16l.73,-.16l.73,-.16l.73,-.16l.73,-.16l.73,-.16l.73,-.16l.73,-.16l.73,-.16l.73,-.16l.73,-.16l.73,-.16l.73,-.16l.73,-.16l.73,-.16l.73,-.16l.73,-.16l.73,-.16l.73,-.16l.73,-.16l.73,-.16l.73,-.16l.73,-.16l.73,-.16l.73,-.16l.73,-.16l.73,-.16l.73,-.16l.73,-.16l.73,-.16l.73,-.16l.73,-.16l.73,-.16l.73,-.16l.73,-.16l.73,-.16l.73,-.16l.73,-.16l.73,-.16l.73,-.16l.73,-.16l.73,-.16l.73,-.16l.73,-.16l.73,-.16l.73,-.16l.73,-.16l.73,-.16l.73,-.16l.73,-.16l.73,-.16l.73,-.16l.73,-.16l.73,-.16l.73,-.16l.73,-.16l.73,-.16l.73,-.16l.73,-.16l.73,-.16l.73,-.16l.73,-.16l.73,-.16l.73,-.16l.73,-.16l.73,-.16l.73,-.16l.73,-.16l.73,-.16l.73,-.16l.73,-.16l.73,-.16l.73,-.16l.73,-.16l.73,-.16l.73,-.16l.73,-.16l.73,-.16l.73,-.16l.73,-.16l.73,-.16l.73,-.16l.73,-.16l.73,-.16l.73,-.16l.73,-.16l.73,-.16l.73,-.16l.73,-.16l.73,-.16l.73,-.16l.73,-.16l.73,-.16l.73,-.16l.73,-.16l.73,-.16l.73,-.16l.73,-.16l.73,-.16l.73,-.16l.73,-.16l.73,-.16l.73,-.16l.73,-.16l.73,-.16l.73,-.16l.73,-.16l.73,-.16l.73,-.16l.73,-.16l.73,-.16l.73,-.16l.73,-.16l.73,-.16l.73,-.16l.73,-.16l.73,-.16l.73,-.16l.73,-.16l.73,-.16l.73,-.16l.73,-.16l.73,-.16l.73,-.16l.73,-.16l.73,-.16l.73,-.16l.73,-.16l.73,-.16l.73,-.16l.73,-.16l.73,-.16l.73,-.16l.73,-.16l.73,-.16l.73,-.16l.73,-.16l.73,-.16l.73,-.16l.73,-.16l.73,-.16l.73,-.16l.73,-.16l.73,-.16l.73,-.16l.73,-.16l.73,-.16l.73,-.16l.73,-.16l.73,-.16l.73,-.16l.73,-.16l.73,-.16l.73,-.16l.73,-.16l.73,-.16l.73,-.16l.73,-.16l.73,-.16l.73,-.16l.73,-.16l.73,-.16l.73,-.16l.73,-.16l.73,-.16l.73,-.16l.73,-.16l.73,-.16l.73,-.16l.73,-.16l.73,-.16l.73,-.16l.73,-.15l.73,-.15l.73,-.15l.73,-.15l.73,-.15l.73,-.15l.73,-.15l.73,-.15l.73,-.15l.73,-.15l.73,-.15l.73,-.15l.73,-.15l.73,-.15l.73,-.15l.73,-.15l.73,-.15l.73,-.15l.73,-.15l.73,-.15l.73,-.15l.73,-.15l.73,-.15l.73,-.15l.73,-.15l.73,-.15l.73,-.15l.73,-.15l.73,-.15l.73,-.15l.73,-.15l.73,-.15l.73,-.15l.73,-.15l.73,-.15l.73,-.15l.73,-.15l.73,-.15l.73,-.15l.73,-.15l.73,-.15l.73,-.15l.73,-.15l.73,-.15l.73,-.15l.73,-.15l.73,-.15l.73,-.15l.73,-.15l.73,-.15l.73,-.15l.73,-.15l.73,-.15l.73,-.15l.73,-.15l.73,-.15l.73,-.15l.73,-.15l.73,-.15l.73,-.15l.73,-.15l.73,-.15l.73,-.15l.73,-.15l.73,-.15l.73,-.15l.73,-.14l.73,-.14l.73,-.14l.73,-.14l.73,-.14l.73,-.14l.73,-.14l.73,-.14l.73,-.14l.73,-.14l.73,-.14l.73,-.14l.73,-.14l.73,-.14l.73,-.14l.73,-.14l.73,-.14l.73,-.14l.73,-.14l.73,-.14l.73,-.14l.73,-.14l.73,-.14l.73,-.14l.73,-.14l.73,-.14l.73,-.14l.73,-.14l.73,-.14l.73,-.14l.73,-.14l.73,-.14l.73,-.14l.73,-.14l.73,-.14l.73,-.14l.73,-.14l.73,-.14l.73,-.14l.73,-.14l.73,-.14l.73,-.14l.73,-.14l.73,-.14l.73,-.14l.73,-.14l.73,-.14l.73,-.14l.73,-.14l.73,-.14l.73,-.14l.73,-.14l.73,-.14l.73,-.14l.73,-.14l.73,-.14l.73,-.14l.73,-.14l.73,-.14l.73,-.14l.73,-.14l.73,-.14l.73,-.14l.73,-.14l.73,-.14l.73,-.14l.73,-.14l.73,-.13l.73,-.13l.73,-.13l.73,-.13l.73,-.13l.73,-.13l.73,-.13l.73,-.13l.73,-.13l.73,-.13l.73,-.13l.73,-.13l.73,-.13l.73,-.13l.73,-.13l.73,-.13l.73,-.13l.73,-.13l.73,-.13l.73,-.13l.73,-.13l.73,-.13l.73,-.13l.73,-.13l.73,-.13l.73,-.13l.73,-.13l.73,-.13l.73,-.13l.73,-.13l.73,-.13l.73,-.13l.73,-.13l.73,-.13l.73,-.13l.73,-.13l.73,-.13l.73,-.13l.73,-.13l.73,-.13l.73,-.13l.73,-.13l.73,-.13l.73,-.13l.73,-.13l.73,-.13l.73,-.13l.73,-.13l.73,-.13l.73,-.13l.73,-.13l.73,-.13l.73,-.13l.73,-.13l.73,-.13l.73,-.13l.73,-.13l.73,-.13l.73,-.13l.73,-.13l.73,-.13l.73,-.13l.73,-.13l.73,-.13l.73,-.13l.73,-.13l.73,-.13l.73,-.13l.73,-.12l.73,-.12l.73,-.12l.73,-.12l.73,-.12l.73,-.12l.73,-.12l.73,-.12l.73,-.12l.73,-.12l.73,-.12l.73,-.12l.73,-.12l.73,-.12l.73,-.12l.73,-.12l.73,-.12l.73,-.12l.73,-.12l.73,-.12l.73,-.12l.73,-.12l.73,-.12l.73,-.12l.73,-.12l.73,-.12l.73,-.12l.73,-.12l.73,-.12l.73,-.12l.73,-.12l.73,-.12l.73,-.12l.73,-.12l.73,-.12l.73,-.12l.73,-.12l.73,-.12l.73,-.12l.73,-.12l.73,-.12l.73,-.12l.73,-.12l.73,-.12l.73,-.12l.73,-.12l.73,-.12l.73,-.12l.73,-.12l.73,-.12l.73,-.12l.73,-.12l.73,-.12l.73,-.12l.73,-.12l.73,-.12l.73,-.12l.73,-.12l.73,-.12l.73,-.12l.73,-.12l.73,-.12l.73,-.12l.73,-.12l.73,-.12l.73,-.12l.73,-.12l.73,-.12l.73,-.12l.73,-.12l.73,-.11l.73,-.11l.73,-.11l.73,-.11l.73,-.11l.73,-.11l.73,-.11l.73,-.11l.73,-.11l.73,-.11l.73,-.11l.73,-.11l.73,-.11l.73,-.11l.73,-.11l.73,-.11l.73,-.11l.73,-.11l.73,-.11l.73,-.11l.73,-.11l.73,-.11l.73,-.11l.73,-.11l.73,-.11l.73,-.11l.73,-.11l.73,-.11l.73,-.11l.73,-.11l.73,-.11l.73,-.11l.73,-.11l.73,-.11l.73,-.11l.73,-.11l.73,-.11l.73,-.11l.73,-.11l.73,-.11l.73,-.11l.73,-.11l.73,-.11l.73,-.11l.73,-.11l.73,-.11l.73,-.11l.73,-.11l.73,-.11l.73,-.11l.73,-.11l.73,-.11l.73,-.11l.73,-.11l.73,-.11l.73,-.11l.73,-.11l.73,-.11l.73,-.11l.73,-.11l.73,-.11l.73,-.11l.73,-.11l.73,-.11l.73,-.11l.73,-.11l.73,-.11l.73,-.11l.73,-.11l.73,-.11l.73,-.11l.73,-.11l.73,-.10l.73,-.10l.73,-.10l.73,-.10l.73,-.10l.73,-.10l.73,-.10l.73,-.10l.73,-.10l.73,-.10l.73,-.10l.73,-.10l.73,-.10l.73,-.10l.73,-.10l.73,-.10l.73,-.10l.73,-.10l.73,-.10l.73,-.10l.73,-.10l.73,-.10l.73,-.10l.73,-.10l.73,-.10l.73,-.10l.73,-.10l.73,-.10l.73,-.10l.73,-.10l.73,-.10l.73,-.10l.73,-.10l.73,-.10l.73,-.10l.73,-.10l.73,-.10l.73,-.10l.73,-.10l.73,-.10l.73,-.10l.73,-.10l.73,-.10l.73,-.10l.73,-.10l.73,-.10l.73,-.10" fill="none" stroke="none" marker-start="url(#mb)" marker-mid="url(#mb)" marker-end="url(#mb)"/>
<path d="M83.35,604.21l.73,.08l.73,.07l.73,.07l.73,.06l.73,.06l.73,.05l.73,.05l.73,.04l.73,.04l.73,.03l.73,.02l.73,.02l.73,.01l.73,.00l.73,-.00l.73,-.01l.73,-.02l.73,-.03l.73,-.03l.73,-.04l.73,-.05l.73,-.06l.73,-.06l.73,-.07l.73,-.08l.73,-.09l.73,-.10l.73,-.11l.73,-.12l.73,-.13l.73,-.14l.73,-.15l.73,-.16l.73,-.17l.73,-.18l.73,-.19l.73,-.20l.73,-.22l.73,-.23l.73,-.24l.73,-.25l.73,-.27l.73,-.28l.73,-.30l.73,-.31l.73,-.33l.73,-.34l.73,-.36l.74,-.37l.74,-.39l.74,-.41l.74,-.42l.74,-.44l.74,-.46l.74,-.48l.74,-.49l.74,-.51l.74,-.53l.74,-.55l.74,-.56l.74,-.58l.74,-.60l.74,-.62l.74,-.64l.74,-.66l.74,-.68l.74,-.70l.74,-.72l.74,-.73l.74,-.75l.74,-.77l.74,-.79l.74,-.81l.74,-.83l.74,-.85l.74,-.87l.74,-.89l.74,-.91l.74,-.93l.74,-.95l.74,-.97l.74,-.99l.74,-1.01l.74,-1.03l.74,-1.05l.74,-1.08l.74,-1.10l.74,-1.12l.74,-1.14l.74,-1.17l.74,-1.19l.74,-1.22l.75,-1.25l.75,-1.27l.75,-1.30l.75,-1.33l.75,-1.36l.75,-1.40l.75,-1.43l.74,-1.46l.73,-1.50l.73,-1.54l.73,-1.57l.73,-1.61l.73,-1.65l.73,-1.70l.73,-1.74l.73,-1.79l.73,-1.84l.73,-1.89l.73,-1.94l.73,-1.99l.73,-2.05l.73,-2.11l.73,-2.17l.73,-2.23l.73,-2.29l.73,-2.35l.73,-2.42l.73,-2.49l.73,-2.56l.73,-2.63l.73,-2.69l.73,-2.76l.73,-2.83l.73,-2.89l.73,-2.95l.73,-3.01l.73,-3.06l.73,-3.11l.73,-3.14l.73,-3.17l.73,-3.19l.73,-3.21l.73,-3.23l.73,-3.25l.73,-3.27l.73,-3.29l.73,-3.31l.73,-3.33l.73,-3.35l.73,-3.37l.73,-3.39l.73,-3.42l.73,-3.44l.73,-3.46l.73,-3.49l.73,-3.51l.73,-3.54l.73,-3.56l.73,-3.59l.73,-3.62l.73,-3.65l.73,-3.68l.73,-3.71l.73,-3.74l.73,-3.76l.73,-3.77l.73,-3.77l.73,-3.75l.73,-3.73l.73,-3.69l.73,-3.64l.73,-3.58l.73,-3.51l.73,-3.44l.73,-3.36l.73,-3.28l.73,-3.20l.73,-3.12l.73,-3.04l.73,-2.96l.73,-2.88l.73,-2.80l.73,-2.72l.73,-2.65l.73,-2.57l.73,-2.49l.73,-2.41l.73,-2.34l.73,-2.27l.73,-2.20l.73,-2.13l.73,-2.07l.73,-2.00l.73,-1.94l.73,-1.89l.73,-1.83l.73,-1.78l.73,-1.73l.73,-1.68l.73,-1.63l.73,-1.59l.73,-1.54l.73,-1.50l.72,-1.46l.72,-1.42l.72,-1.38l.72,-1.35l.72,-1.31l.72,-1.28l.72,-1.25l.72,-1.22l.72,-1.19l.72,-1.16l.72,-1.13l.72,-1.11l.72,-1.08l.72,-1.05l.72,-1.03l.72,-1.01l.72,-.98l.72,-.96l.72,-.94l.72,-.92l.72,-.90l.72,-.88l.72,-.86l.72,-.84l.72,-.81l.72,-.79l.72,-.77l.72,-.75l.72,-.73l.72,-.71l.72,-.68l.72,-.66l.72,-.64l.72,-.62l.72,-.59l.72,-.57l.72,-.55l.72,-.53l.72,-.51l.72,-.49l.72,-.46l.72,-.44l.72,-.42l.72,-.40l.72,-.38l.73,-.36l.73,-.34l.73,-.32l.73,-.31l.73,-.29l.73,-.28l.73,-.26l.73,-.25l.73,-.23l.73,-.22l.73,-.21l.73,-.19l.73,-.18l.73,-.17l.73,-.16l.73,-.15l.73,-.13l.73,-.12l.73,-.11l.73,-.10l.73,-.09l.73,-.08l.73,-.08l.73,-.07l.73,-.06l.73,-.05l.73,-.04l.73,-.03l.73,-.03l.73,-.02l.73,-.01l.73,-.00l.73,.00l.73,.01l.73,.02l.73,.02l.73,.03l.73,.03l.73,.03l.73,.04l.73,.04l.73,.05l.73,.05l.73,.05l.73,.05l.73,.05l.73,.06l.73,.06l.73,.06l.73,.06l.73,.06l.73,.06l.73,.06l.73,.06l.73,.06l.73,.06l.73,.06l.73,.05l.73,.05l.73,.05l.73,.05l.73,.05l.73,.05l.73,.05l.73,.05l.73,.05l.73,.04l.73,.04l.73,.04l.73,.04l.73,.04l.73,.04l.73,.04l.73,.04l.73,.03l.73,.03l.73,.03l.73,.03l.73,.03l.73,.03l.73,.03l.73,.03l.73,.03l.73,.02l.73,.02l.73,.02l.73,.02l.73,.02l.73,.02l.73,.02l.73,.02l.73,.01l.73,.01l.73,.01l.73,.01l.73,.01l.73,.01l.73,.01l.73,.01l.73,.00l.73,.00l.73,.00l.73,.00l.73,-.00l.73,-.00l.73,-.00l.73,-.00l.73,-.01l.73,-.01l.73,-.01l.73,-.01l.73,-.01l.73,-.01l.73,-.01l.73,-.01l.73,-.02l.73,-.02l.73,-.02l.73,-.02l.73,-.02l.73,-.02l.73,-.02l.73,-.03l.73,-.03l.73,-.03l.73,-.03l.73,-.03l.73,-.03l.73,-.03l.73,-.03l.73,-.04l.73,-.04l.73,-.04l.73,-.04l.73,-.04l.73,-.04l.73,-.04l.73,-.04l.73,-.05l.73,-.05l.73,-.05l.73,-.05l.73,-.05l.73,-.05l.73,-.05l.73,-.05l.73,-.06l.73,-.06l.73,-.06l.73,-.06l.73,-.06l.73,-.06l.73,-.06l.73,-.06l.73,-.06l.73,-.07l.73,-.07l.73,-.07l.73,-.07l.73,-.07l.73,-.07l.73,-.07l.73,-.07l.73,-.07l.73,-.08l.73,-.08l.73,-.08l.73,-.08l.73,-.08l.73,-.08l.73,-.08l.73,-.08l.73,-.08l.73,-.09l.73,-.09l.73,-.09l.73,-.09l.73,-.09l.73,-.09l.73,-.09l.73,-.09l.73,-.09l.73,-.09l.73,-.10l.73,-.10l.73,-.10l.73,-.10l.73,-.10l.73,-.10l.73,-.10l.73,-.10l.73,-.10l.73,-.10l.73,-.10l.73,-.11l.73,-.11l.73,-.11l.73,-.11l.73,-.11l.73,-.11l.73,-.11l.73,-.11l.73,-.11l.73,-.11l.73,-.11l.73,-.12l.73,-.12l.73,-.12l.73,-.12l.73,-.12l.73,-.12l.73,-.12l.73,-.12l.73,-.12l.73,-.12l.73,-.12l.73,-.12l.73,-.12l.73,-.13l.73,-.13l.73,-.13l.73,-.13l.73,-.13l.73,-.13l.73,-.13l.73,-.13l.73,-.13l.73,-.13l.73,-.13l.73,-.13l.73,-.13l.73,-.14l.73,-.14l.73,-.14l.73,-.14l.73,-.14l.73,-.14l.73,-.14l.73,-.14l.73,-.14l.73,-.14l.73,-.14l.73,-.14l.73,-.14l.73,-.14l.73,-.14l.73,-.14l.73,-.15l.73,-.15l.73,-.15l.73,-.15l.73,-.15l.73,-.15l.73,-.15l.73,-.15l.73,-.15l.73,-.15l.73,-.15l.73,-.15l.73,-.15l.73,-.15l.73,-.15l.73,-.15l.73,-.15l.73,-.15l.73,-.15l.73,-.16l.73,-.16l.73,-.16l.73,-.16l.73,-.16l.73,-.16l.73,-.16l.73,-.16l.73,-.16l.73,-.16l.73,-.16l.73,-.16l.73,-.16l.73,-.16l.73,-.16l.73,-.16l.73,-.16l.73,-.16l.73,-.16l.73,-.16l.73,-.16l.73,-.16l.73,-.16l.73,-.16l.73,-.16l.73,-.16l.73,-.17l.73,-.17l.73,-.17l.73,-.17l.73,-.17l.73,-.17l.73,-.17l.73,-.17l.73,-.17l.73,-.17l.73,-.17l.73,-.17l.73,-.17l.73,-.17l.73,-.17l.73,-.17l.73,-.17l.73,-.17l.73,-.17l.73,-.17l.73,-.17l.73,-.17l.73,-.17l.73,-.17l.73,-.17l.73,-.17l.73,-.17l.73,-.17l.73,-.17l.73,-.17l.73,-.17l.73,-.17l.73,-.17l.73,-.17l.73,-.17l.73,-.17l.73,-.17l.73,-.17l.73,-.17l.73,-.17l.73,-.17l.73,-.17l.73,-.17l.73,-.17l.73,-.17l.73,-.17l.73,-.17l.73,-.17l.73,-.17l.73,-.17l.73,-.17l.73,-.17l.73,-.17l.73,-.17l.73,-.17l.73,-.17l.73,-.17l.73,-.17l.73,-.17l.73,-.17l.73,-.17l.73,-.17l.73,-.17l.73,-.17l.73,-.17l.73,-.17l.73,-.17l.73,-.17l.73,-.17l.73,-.17l.73,-.17l.73,-.17l.73,-.17l.73,-.17l.73,-.17l.73,-.17l.73,-.17l.73,-.17l.73,-.17l.73,-.17l.73,-.17l.73,-.17l.73,-.17l.73,-.17l.73,-.17l.73,-.17l.73,-.17l.73,-.17l.73,-.17l.73,-.17l.73,-.17l.73,-.17l.73,-.17l.73,-.17l.73,-.17l.73,-.17l.73,-.17l.73,-.17l.73,-.17l.73,-.17l.73,-.17l.73,-.16l.73,-.16l.73,-.16l.73,-.16l.73,-.16l.73,-.16l.73,-.16l.73,-.16l.73,-.16l.73,-.16l.73,-.16l.73,-.16l.73,-.16l.73,-.16l.73,-.16l.73,-.16l.73,-.16l.73,-.16l.73,-.16l.73,-.16l.73,-.16l.73,-.16l.73,-.16l.73,-.16l.73,-.16l.73,-.16l.73,-.16l.73,-.16l.73,-.16l.73,-.16l.73,-.16l.73,-.16l.73,-.16l.73,-.16l.73,-.16l.73,-.16l.73,-.16l.73,-.16l.73,-.16l.73,-.16l.73,-.16l.73,-.16l.73,-.16l.73,-.16l.73,-.16l.73,-.16l.73,-.16l.73,-.16l.73,-.16l.73,-.16l.73,-.16l.73,-.16l.73,-.16l.73,-.16l.73,-.16l.73,-.16l.73,-.16l.73,-.16l.73,-.16l.73,-.16l.73,-.16l.73,-.16l.73,-.16l.73,-.16l.73,-.16l.73,-.16l.73,-.16l.73,-.16l.73,-.16l.73,-.16l.73,-.16l.73,-.16l.73,-.15l.73,-.15l.73,-.15l.73,-.15l.73,-.15l.73,-.15l.73,-.15l.73,-.15l.73,-.15l.73,-.15l.73,-.15l.73,-.15l.73,-.15l.73,-.15l.73,-.15l.73,-.15l.73,-.15l.73,-.15l.73,-.15l.73,-.15l.73,-.15l.73,-.15l.73,-.15l.73,-.15l.73,-.15l.73,-.15l.73,-.15l.73,-.15l.73,-.15l.73,-.15l.73,-.15l.73,-.15l.73,-.15l.73,-.15l.73,-.15l.73,-.15l.73,-.15l.73,-.15l.73,-.15l.73,-.15l.73,-.15l.73,-.15l.73,-.15l.73,-.15l.73,-.15l.73,-.15l.73,-.15l.73,-.15l.73,-.15l.73,-.15l.73,-.15l.73,-.15l.73,-.15l.73,-.15l.73,-.15l.73,-.15l.73,-.15l.73,-.15l.73,-.15l.73,-.15l.73,-.15l.73,-.15l.73,-.15l.73,-.15l.73,-.15l.73,-.15l.73,-.15l.73,-.15l.73,-.15l.73,-.14l.73,-.14l.73,-.14l.73,-.14l.73,-.14l.73,-.14l.73,-.14l.73,-.14l.73,-.14l.73,-.14l.73,-.14l.73,-.14l.73,-.14l.73,-.14l.73,-.14l.73,-.14l.73,-.14l.73,-.14l.73,-.14l.73,-.14l.73,-.14l.73,-.14l.73,-.14l.73,-.14l.73,-.14l.73,-.14l.73,-.14l.73,-.14l.73,-.14l.73,-.14l.73,-.14l.73,-.14l.73,-.14l.73,-.14l.73,-.14l.73,-.14l.73,-.14l.73,-.14l.73,-.14l.73,-.14l.73,-.14l.73,-.14l.73,-.14l.73,-.14l.73,-.14l.73,-.14l.73,-.14l.73,-.14l.73,-.14l.73,-.14l.73,-.14l.73,-.14l.73,-.14l.73,-.14l.73,-.14l.73,-.14l.73,-.14l.73,-.14l.73,-.14l.73,-.14l.73,-.14l.73,-.14l.73,-.14l.73,-.14l.73,-.14l.73,-.14l.73,-.13l.73,-.13l.73,-.13l.73,-.13l.73,-.13l.73,-.13l.73,-.13l.73,-.13l.73,-.13l.73,-.13l.73,-.13l.73,-.13l.73,-.13l.73,-.13l.73,-.13l.73,-.13l.73,-.13l.73,-.13l.73,-.13l.73,-.13l.73,-.13l.73,-.13l.73,-.13l.73,-.13l.73,-.13l.73,-.13l.73,-.13l.73,-.13l.73,-.13l.73,-.13l.73,-.13l.73,-.13l.73,-.13l.73,-.13l.73,-.13l.73,-.13l.73,-.13l.73,-.13l.73,-.13l.73,-.13l.73,-.13l.73,-.13l.73,-.13l.73,-.13l.73,-.13l.73,-.13l.73,-.13l.73,-.13l.73,-.13l.73,-.13l.73,-.13l.73,-.13l.73,-.13l.73,-.13l.73,-.13l.73,-.13l.73,-.13l.73,-.13l.73,-.13l.73,-.13l.73,-.13l.73,-.13l.73,-.13l.73,-.13l.73,-.12l.73,-.12l.73,-.12l.73,-.12l.73,-.12l.73,-.12l.73,-.12l.73,-.12l.73,-.12l.73,-.12l.73,-.12l.73,-.12l.73,-.12l.73,-.12l.73,-.12l.73,-.12l.73,-.12l.73,-.12l.73,-.12l.73,-.12l.73,-.12l.73,-.12l.73,-.12l.73,-.12l.73,-.12l.73,-.12l.73,-.12l.73,-.12l.73,-.12l.73,-.12l.73,-.12l.73,-.12l.73,-.12l.73,-.12l.73,-.12l.73,-.12l.73,-.12l.73,-.12l.73,-.12l.73,-.12l.73,-.12l.73,-.12l.73,-.12l.73,-.12l.73,-.12l.73,-.12l.73,-.12l.73,-.12l.73,-.12l.73,-.12l.73,-.12l.73,-.12l.73,-.12l.73,-.12l.73,-.12l.73,-.12l.73,-.12l.73,-.12l.73,-.12l.73,-.12l.73,-.12l.73,-.12l.73,-.11l.73,-.11l.73,-.11l.73,-.11l.73,-.11l.73,-.11l.73,-.11l.73,-.11l.73,-.11l.73,-.11l.73,-.11l.73,-.11l.73,-.11l.73,-.11l.73,-.11l.73,-.11l.73,-.11l.73,-.11l.73,-.11l.73,-.11l.73,-.11l.73,-.11l.73,-.11l.73,-.11l.73,-.11l.73,-.11l.73,-.11l.73,-.11l.73,-.11l.73,-.11l.73,-.11l.73,-.11l.73,-.11l.73,-.11l.73,-.11l.73,-.11l.73,-.11l.73,-.11l.73,-.11l.73,-.11l.73,-.11l.73,-.11l.73,-.11l.73,-.11l.73,-.11l.73,-.11l.73,-.11l.73,-.11l.73,-.11l.73,-.11l.73,-.11l.73,-.11l.73,-.11l.73,-.11l.73,-.11l.73,-.11l.73,-.11l.73,-.11l.73,-.11l.73,-.11l.73,-.11l.73,-.10l.73,-.10l.73,-.10l.73,-.10l.73,-.10l.73,-.10l.73,-.10l.73,-.10l.73,-.10l.73,-.10l.73,-.10l.73,-.10l.73,-.10l.73,-.10l.73,-.10l.73,-.10l.73,-.10l.73,-.10l.73,-.10l.73,-.10l.73,-.10l.73,-.10l.73,-.10l.73,-.10l.73,-.10l.73,-.10l.73,-.10l.73,-.10l.73,-.10l.73,-.10l.73,-.10l.73,-.10l.73,-.10l.73,-.10l.73,-.10l.73,-.10l.73,-.10l.73,-.10l.73,-.10l.73,-.10l.73,-.10l.73,-.10l.73,-.10l.73,-.10l.73,-.10l.73,-.10l.73,-.10l.73,-.10l.73,-.10l.73,-.10l.73,-.10l.73,-.10l.73,-.10l.73,-.10l.73,-.10l.73,-.10l.73,-.10l.73,-.10l.73,-.10l.73,-.09l.73,-.09l.73,-.09l.73,-.09l.73,-.09l.73,-.09" fill="none" stroke="none" marker-start="url(#mt)" marker-mid="url(#mt)" marker-end="url(#mt)"/>
</g>
<text transform="translate(75.5,617.5) scale(0.915,1)" text-anchor="end" font-size="32">0</text>
<text transform="translate(75.5,498.3) scale(0.915,1)" text-anchor="end" font-size="32">20</text>
<text transform="translate(75.5,379.0) scale(0.915,1)" text-anchor="end" font-size="32">40</text>
<text transform="translate(75.5,259.8) scale(0.915,1)" text-anchor="end" font-size="32">60</text>
<text transform="translate(75.5,140.5) scale(0.915,1)" text-anchor="end" font-size="32">80</text>
<text transform="translate(75.5,22.3) scale(0.915,1)" text-anchor="end" font-size="32">100</text>
<text transform="translate(177.9,644.0) scale(0.905,1)" text-anchor="middle" font-size="32">600</text>
<text transform="translate(287.8,644.0) scale(0.905,1)" text-anchor="middle" font-size="32">900</text>
<text transform="translate(397.7,644.0) scale(0.905,1)" text-anchor="middle" font-size="32">1200</text>
<text transform="translate(507.6,644.0) scale(0.905,1)" text-anchor="middle" font-size="32">1500</text>
<text transform="translate(617.5,644.0) scale(0.905,1)" text-anchor="middle" font-size="32">1800</text>
<text transform="translate(727.5,644.0) scale(0.905,1)" text-anchor="middle" font-size="32">2100</text>
<text transform="translate(837.4,644.0) scale(0.905,1)" text-anchor="middle" font-size="32">2400</text>
<text class="it" transform="translate(449.5,53.5) scale(0.97,1)" font-size="30">(a)</text>
<text class="it" transform="translate(386.8,687.5) scale(0.905,1)" font-size="32.8">Wavelength, λ (nm)</text>
<text class="it" transform="translate(22,372.5) rotate(-90) scale(0.985,1)" font-size="30">Transmission, T%</text>
<line x1="686.7" y1="483.3" x2="739.0" y2="483.3" stroke="#505050" stroke-width="4" stroke-linecap="round"/>
<rect x="708.4" y="479.1" width="8.6" height="8.4" fill="#fff" stroke="#000" stroke-width="1.2"/>
<rect x="708.4" y="479.1" width="4.3" height="8.4" fill="#000"/>
<text class="it" transform="translate(755.2,491.9) scale(0.9,1)" font-size="28.5">263 nm</text>
<line x1="686.7" y1="515.8" x2="739.0" y2="515.8" stroke="#ee3a3a" stroke-width="4" stroke-linecap="round"/>
<circle cx="712.7" cy="515.8" r="4.5" fill="#fff" stroke="#ff0000" stroke-width="1.2"/>
<path d="M712.7,511.3 A4.5,4.5 0 0 0 712.7,520.3Z" fill="#ff0000"/>
<text class="it" transform="translate(755.2,524.4) scale(0.9,1)" font-size="28.5">317 nm</text>
<line x1="686.7" y1="548.3" x2="739.0" y2="548.3" stroke="#1f62e6" stroke-width="4" stroke-linecap="round"/>
<path d="M712.7,542.3 L718.3,551.9 L707.1,551.9Z" fill="#fff" stroke="#0000ff" stroke-width="1.2"/>
<path d="M712.7,542.3 L712.7,551.9 L707.1,551.9Z" fill="#0000ff"/>
<text class="it" transform="translate(755.2,556.9) scale(0.9,1)" font-size="28.5">392 nm</text>
<line x1="686.7" y1="580.8" x2="739.0" y2="580.8" stroke="#2ea06c" stroke-width="4" stroke-linecap="round"/>
<path d="M712.7,574.5 L718.2,580.8 L712.7,587.1 L707.2,580.8Z" fill="#fff" stroke="#1a8a84" stroke-width="1.2"/>
<path d="M712.7,574.5 L712.7,587.1 L707.2,580.8Z" fill="#1a8a84"/>
<text class="it" transform="translate(755.2,589.4) scale(0.9,1)" font-size="28.5">459 nm</text>
<g stroke="#000" stroke-width="3.6" fill="none">
<path d="M1032.2,596.4h5.0M1032.2,584.5h5.0M1032.2,572.6h5.0M1032.2,560.7h5.0M1032.2,548.7h5.0M1032.2,536.8h5.0M1032.2,524.9h5.0M1032.2,513.0h5.0M1032.2,501.1h5.0M1032.2,489.2h10.0M1032.2,477.3h5.0M1032.2,465.4h5.0M1032.2,453.4h5.0M1032.2,441.5h5.0M1032.2,429.6h5.0M1032.2,417.7h5.0M1032.2,405.8h5.0M1032.2,393.9h5.0M1032.2,382.0h5.0M1032.2,370.1h10.0M1032.2,358.1h5.0M1032.2,346.2h5.0M1032.2,334.3h5.0M1032.2,322.4h5.0M1032.2,310.5h5.0M1032.2,298.6h5.0M1032.2,286.7h5.0M1032.2,274.8h5.0M1032.2,262.9h5.0M1032.2,250.9h10.0M1032.2,239.0h5.0M1032.2,227.1h5.0M1032.2,215.2h5.0M1032.2,203.3h5.0M1032.2,191.4h5.0M1032.2,179.5h5.0M1032.2,167.6h5.0M1032.2,155.6h5.0M1032.2,143.7h5.0M1032.2,131.8h10.0M1032.2,119.9h5.0M1032.2,108.0h5.0M1032.2,96.1h5.0M1032.2,84.2h5.0M1032.2,72.3h5.0M1032.2,60.3h5.0M1032.2,48.4h5.0M1032.2,36.5h5.0M1032.2,24.6h5.0M1039.2,608.3v-5.0M1049.7,608.3v-10.0M1060.2,608.3v-5.0M1070.7,608.3v-5.0M1081.2,608.3v-5.0M1091.7,608.3v-5.0M1102.2,608.3v-5.0M1112.7,608.3v-5.0M1123.2,608.3v-5.0M1133.7,608.3v-5.0M1144.2,608.3v-5.0M1154.7,608.3v-10.0M1165.2,608.3v-5.0M1175.7,608.3v-5.0M1186.2,608.3v-5.0M1196.7,608.3v-5.0M1207.2,608.3v-5.0M1217.7,608.3v-5.0M1228.2,608.3v-5.0M1238.7,608.3v-5.0M1249.2,608.3v-5.0M1259.7,608.3v-10.0M1270.2,608.3v-5.0M1280.7,608.3v-5.0M1291.2,608.3v-5.0M1301.7,608.3v-5.0M1312.2,608.3v-5.0M1322.7,608.3v-5.0M1333.2,608.3v-5.0M1343.7,608.3v-5.0M1354.2,608.3v-5.0M1364.7,608.3v-10.0M1375.2,608.3v-5.0M1385.7,608.3v-5.0M1396.2,608.3v-5.0M1406.7,608.3v-5.0M1417.2,608.3v-5.0M1427.8,608.3v-5.0M1438.3,608.3v-5.0M1448.8,608.3v-5.0M1459.3,608.3v-5.0M1469.8,608.3v-10.0M1480.3,608.3v-5.0M1490.8,608.3v-5.0M1501.3,608.3v-5.0M1511.8,608.3v-5.0M1522.3,608.3v-5.0M1532.8,608.3v-5.0M1543.3,608.3v-5.0M1553.8,608.3v-5.0M1564.3,608.3v-5.0M1574.8,608.3v-10.0M1585.3,608.3v-5.0M1595.8,608.3v-5.0M1606.3,608.3v-5.0M1616.8,608.3v-5.0M1627.3,608.3v-5.0M1637.8,608.3v-5.0M1648.3,608.3v-5.0M1658.8,608.3v-5.0M1669.3,608.3v-5.0M1679.8,608.3v-10.0M1690.3,608.3v-5.0M1700.8,608.3v-5.0M1711.3,608.3v-5.0M1721.8,608.3v-5.0M1732.3,608.3v-5.0M1742.8,608.3v-5.0M1753.3,608.3v-5.0M1763.8,608.3v-5.0M1774.3,608.3v-5.0M1784.8,608.3v-10.0M1795.3,608.3v-5.0M1805.8,608.3v-5.0M1816.3,608.3v-5.0"/>
</g>
<rect x="1032.2" y="12.7" width="787.6" height="595.6" fill="none" stroke="#000" stroke-width="3.8"/>
<g clip-path="url(#cb)">
<path d="M1030.10,547.92l.70,1.06l.70,1.38l.70,1.83l.70,2.45l.70,3.24l.70,3.77l.70,3.42l.70,2.57l.70,1.83l.70,1.31l.70,.94l.70,.68l.70,.48l.70,.32l.70,.20l.70,.12l.70,.05l.70,.00l.70,-.04l.70,-.07l.70,-.10l.70,-.13l.70,-.15l.70,-.18l.70,-.20l.70,-.22l.70,-.24l.70,-.27l.70,-.29l.70,-.31l.70,-.33l.70,-.36l.70,-.38l.70,-.41l.70,-.43l.70,-.46l.70,-.50l.70,-.53l.70,-.57l.70,-.61l.70,-.66l.70,-.70l.70,-.75l.70,-.81l.70,-.86l.70,-.92l.70,-.99l.70,-1.05l.70,-1.12l.70,-1.18l.70,-1.25l.70,-1.31l.70,-1.36l.70,-1.40l.70,-1.43l.70,-1.45l.70,-1.44l.70,-1.42l.70,-1.39l.70,-1.34l.70,-1.28l.70,-1.22l.70,-1.15l.70,-1.08l.70,-1.01l.70,-.94l.70,-.88l.70,-.82l.70,-.76l.70,-.70l.70,-.65l.70,-.61l.70,-.56l.70,-.52l.70,-.48l.70,-.44l.70,-.41l.70,-.37l.70,-.33l.70,-.30l.70,-.27l.70,-.23l.70,-.20l.70,-.17l.70,-.14l.70,-.12l.70,-.09l.70,-.07l.70,-.05l.70,-.03l.70,-.02l.70,-.00l.70,.01l.70,.02l.70,.03l.70,.04l.70,.05l.70,.05l.70,.06l.70,.06l.70,.07l.70,.07l.70,.07l.70,.08l.70,.08l.70,.08l.70,.09l.70,.09l.70,.09l.70,.09l.70,.10l.70,.10l.70,.10l.70,.10l.70,.11l.70,.11l.70,.11l.70,.11l.70,.12l.70,.12l.70,.12l.70,.12l.70,.13l.70,.13l.70,.13l.70,.13l.70,.13l.70,.13l.70,.14l.70,.14l.70,.14l.70,.14l.70,.14l.70,.14l.70,.14l.70,.14l.70,.14l.70,.14l.70,.15l.70,.15l.70,.15l.70,.15l.70,.15l.70,.15l.70,.15l.70,.15l.70,.15l.70,.15l.70,.15l.70,.15l.70,.15l.70,.15l.70,.15l.70,.15l.70,.14l.70,.14l.70,.14l.70,.14l.70,.14l.70,.14l.70,.14l.70,.14l.70,.14l.70,.14l.70,.14l.70,.13l.70,.13l.70,.13l.70,.13l.70,.13l.70,.13l.70,.13l.70,.13l.70,.13l.70,.13l.70,.13l.70,.13l.70,.13l.70,.13l.70,.13l.70,.13l.70,.13l.70,.13l.70,.13l.70,.13l.70,.13l.70,.13l.70,.13l.70,.13l.70,.13l.70,.13l.70,.13l.70,.13l.70,.13l.70,.13l.70,.13l.70,.13l.70,.13l.70,.13l.70,.13l.70,.13l.70,.13l.70,.13l.70,.13l.70,.13l.70,.14l.70,.14l.70,.14l.70,.14l.70,.14l.70,.14l.70,.14l.70,.14l.70,.14l.70,.14l.70,.14l.70,.15l.70,.15l.70,.15l.70,.15l.70,.15l.70,.15l.70,.15l.70,.15l.70,.15l.70,.15l.70,.16l.70,.16l.70,.16l.70,.16l.70,.16l.70,.16l.70,.16l.70,.16l.70,.16l.70,.16l.70,.16l.70,.16l.70,.16l.70,.16l.70,.16l.70,.17l.70,.17l.70,.17l.70,.17l.70,.17l.70,.17l.70,.17l.70,.17l.70,.17l.70,.17l.70,.17l.70,.17l.70,.17l.70,.17l.70,.17l.70,.17l.70,.17l.70,.17l.70,.17l.70,.17l.70,.17l.70,.17l.70,.17l.70,.17l.70,.17l.70,.17l.70,.17l.70,.17l.70,.17l.70,.17l.70,.17l.70,.17l.70,.17l.70,.17l.70,.17l.70,.17l.70,.17l.70,.17l.70,.17l.70,.17l.70,.17l.70,.17l.70,.17l.70,.17l.70,.17l.70,.17l.70,.17l.70,.17l.70,.17l.70,.17l.70,.17l.70,.17l.70,.17l.70,.17l.70,.17l.70,.17l.70,.17l.70,.17l.70,.17l.70,.17l.70,.17l.70,.17l.70,.17l.70,.17l.70,.16l.70,.16l.70,.16l.70,.16l.70,.16l.70,.16l.70,.16l.70,.16l.70,.16l.70,.16l.70,.16l.70,.16l.70,.16l.70,.16l.70,.16l.70,.15l.70,.15l.70,.15l.70,.15l.70,.15l.70,.15l.70,.15l.70,.15l.70,.15l.70,.15l.70,.15l.70,.14l.70,.14l.70,.14l.70,.14l.70,.14l.70,.14l.70,.14l.70,.14l.70,.14l.70,.14l.70,.14l.70,.13l.70,.13l.70,.13l.70,.13l.70,.13l.70,.13l.70,.13l.70,.13l.70,.13l.70,.13l.70,.13l.70,.13l.70,.12l.70,.12l.70,.12l.70,.12l.70,.12l.70,.12l.70,.12l.70,.12l.70,.12l.70,.12l.70,.12l.70,.12l.70,.12l.70,.12l.70,.11l.70,.11l.70,.11l.70,.11l.70,.11l.70,.11l.70,.11l.70,.11l.70,.11l.70,.11l.70,.11l.70,.11l.70,.11l.70,.11l.70,.11l.70,.11l.70,.10l.70,.10l.70,.10l.70,.10l.70,.10l.70,.10l.70,.10l.70,.10l.70,.10l.70,.10l.70,.10l.70,.10l.70,.10l.70,.10l.70,.10l.70,.10l.70,.10l.70,.10l.70,.10l.70,.10l.70,.09l.70,.09l.70,.09l.70,.09l.70,.09l.70,.09l.70,.09l.70,.09l.70,.09l.70,.09l.70,.09l.70,.09l.70,.09l.70,.09l.70,.09l.70,.09l.70,.09l.70,.09l.70,.09l.70,.09l.70,.09l.70,.09l.70,.09l.70,.09l.70,.09l.70,.09l.70,.09l.70,.08l.70,.08l.70,.08l.70,.08l.70,.08l.70,.08l.70,.08l.70,.08l.70,.08l.70,.08l.70,.08l.70,.08l.70,.08l.70,.08l.70,.08l.70,.08l.70,.08l.70,.08l.70,.08l.70,.08l.70,.08l.70,.08l.70,.08l.70,.08l.70,.08l.70,.08l.70,.08l.70,.08l.70,.08l.70,.08l.70,.08l.70,.08l.70,.08l.70,.08l.70,.08l.70,.08l.70,.08l.70,.08l.70,.08l.70,.08l.70,.08l.70,.08l.70,.08l.70,.08l.70,.08l.70,.08l.70,.07l.70,.07l.70,.07l.70,.07l.70,.07l.70,.07l.70,.07l.70,.07l.70,.07l.70,.07l.70,.07l.70,.07l.70,.07l.70,.07l.70,.07l.70,.07l.70,.07l.70,.07l.70,.07l.70,.07l.70,.07l.70,.07l.70,.07l.70,.07l.70,.07l.70,.07l.70,.07l.70,.07l.70,.07l.70,.07l.70,.07l.70,.07l.70,.07l.70,.07l.70,.07l.70,.07l.70,.07l.70,.07l.70,.07l.70,.07l.70,.07l.70,.07l.70,.07l.70,.07l.70,.06l.70,.06l.70,.06l.70,.06l.70,.06l.70,.06l.70,.06l.70,.06l.70,.06l.70,.06l.70,.06l.70,.06l.70,.06l.70,.06l.70,.06l.70,.06l.70,.06l.70,.06l.70,.06l.70,.06l.70,.06l.70,.06l.70,.06l.70,.06l.70,.06l.70,.06l.70,.06l.70,.06l.70,.06l.70,.06l.70,.06l.70,.06l.70,.06l.70,.06l.70,.06l.70,.06l.70,.06l.70,.06l.70,.06l.70,.06l.70,.06l.70,.06l.70,.05l.70,.05l.70,.05l.70,.05l.70,.05l.70,.05l.70,.05l.70,.05l.70,.05l.70,.05l.70,.05l.70,.05l.70,.05l.70,.05l.70,.05l.70,.05l.70,.05l.70,.05l.70,.05l.70,.05l.70,.05l.70,.05l.70,.05l.70,.05l.70,.05l.70,.05l.70,.05l.70,.05l.70,.05l.70,.05l.70,.05l.70,.05l.70,.05l.70,.05l.70,.05l.70,.05l.70,.05l.70,.05l.70,.04l.70,.04l.70,.04l.70,.04l.70,.04l.70,.04l.70,.04l.70,.04l.70,.04l.70,.04l.70,.04l.70,.04l.70,.04l.70,.04l.70,.04l.70,.04l.70,.04l.70,.04l.70,.04l.70,.04l.70,.04l.70,.04l.70,.04l.70,.04l.70,.04l.70,.04l.70,.04l.70,.04l.70,.04l.70,.04l.70,.04l.70,.04l.70,.04l.70,.04l.70,.04l.70,.04l.70,.04l.70,.03l.70,.03l.70,.03l.70,.03l.70,.03l.70,.03l.70,.03l.70,.03l.70,.03l.70,.03l.70,.03l.70,.03l.70,.03l.70,.03l.70,.03l.70,.03l.70,.03l.70,.03l.70,.03l.70,.03l.70,.03l.70,.03l.70,.03l.70,.03l.70,.03l.70,.03l.70,.03l.70,.03l.70,.03l.70,.03l.70,.03l.70,.03l.70,.03l.70,.03l.70,.03l.70,.02l.70,.02l.70,.02l.70,.02l.70,.02l.70,.02l.70,.02l.70,.02l.70,.02l.70,.02l.70,.02l.70,.02l.70,.02l.70,.02l.70,.02l.70,.02l.70,.02l.70,.02l.70,.02l.70,.02l.70,.02l.70,.02l.70,.02l.70,.02l.70,.02l.70,.02l.70,.02l.70,.02l.70,.02l.70,.02l.70,.02l.70,.02l.70,.02l.70,.01l.70,.01l.70,.01l.70,.01l.70,.01l.70,.01l.70,.01l.70,.01l.70,.01l.70,.01l.70,.01l.70,.01l.70,.01l.70,.01l.70,.01l.70,.01l.70,.01l.70,.01l.70,.01l.70,.01l.70,.01l.70,.01l.70,.01l.70,.01l.70,.01l.70,.01l.70,.01l.70,.01l.70,.01l.70,.01l.70,.01l.70,.01l.70,.01l.70,.01l.70,.01l.70,.01l.70,.01l.70,.01l.70,.01l.70,.01l.70,.01l.70,.01l.70,.01l.70,.01l.70,.01l.70,.01l.70,.01l.70,.01l.70,.01l.70,.01l.70,.01l.70,.01l.70,.01l.70,.01l.70,.01l.70,.01l.70,.01l.70,.01l.70,.01l.70,.01l.70,.01l.70,.01l.70,.01l.70,.01l.70,.01l.70,.01l.70,.01l.70,.01l.70,.01l.70,.01l.70,.01l.70,.01l.70,.01l.70,.01l.70,.01l.70,.01l.70,.01l.70,.01l.70,.01l.70,.01l.70,.01l.70,.01l.70,.01l.70,.01l.70,.02l.70,.02l.70,.02l.70,.02l.70,.02l.70,.02l.70,.02l.70,.02l.70,.02l.70,.02l.70,.02l.70,.02l.70,.02l.70,.02l.70,.02l.70,.02l.70,.02l.70,.02l.70,.03l.70,.03l.70,.03l.70,.03l.70,.03l.70,.03l.70,.03l.70,.03l.70,.03l.70,.03l.70,.03l.70,.03l.70,.03l.70,.03l.70,.03l.70,.03l.70,.04l.70,.04l.70,.04l.70,.04l.70,.04l.70,.04l.70,.04l.70,.04l.70,.04l.70,.04l.70,.04l.70,.04l.70,.04l.70,.04l.70,.04l.70,.04l.70,.04l.70,.04l.70,.04l.70,.04l.70,.04l.70,.04l.70,.04l.70,.04l.70,.04l.70,.04l.70,.04l.70,.04l.70,.04l.70,.03l.70,.03l.70,.03l.70,.03l.70,.03l.70,.03l.70,.03l.70,.03l.70,.03l.70,.03l.70,.03l.70,.03l.70,.03l.70,.03l.70,.03l.70,.02l.70,.02l.70,.02l.70,.02l.70,.02l.70,.02l.70,.02l.70,.02l.70,.02l.70,.02l.70,.01l.70,.01l.70,.01l.70,.01l.70,.01l.70,.01l.70,.01l.70,.01l.70,.00l.70,.00l.70,.00l.70,-.00l.70,-.00l.70,-.00l.70,-.01l.70,-.01l.70,-.01l.70,-.01l.70,-.01l.70,-.01l.70,-.02l.70,-.02l.70,-.02l.70,-.02l.70,-.02l.70,-.02l.70,-.03l.70,-.03l.70,-.03l.70,-.03l.70,-.03l.70,-.03l.70,-.03l.70,-.04l.70,-.04l.70,-.04l.70,-.04l.70,-.04l.70,-.04l.70,-.04l.70,-.04l.70,-.04l.70,-.04l.70,-.04l.70,-.04l.70,-.04l.70,-.04l.70,-.04l.70,-.04l.70,-.04l.70,-.04l.70,-.04l.70,-.04l.70,-.03l.70,-.03l.70,-.03l.70,-.03l.70,-.03l.70,-.03l.70,-.03l.70,-.03l.70,-.02l.70,-.02l.70,-.02l.70,-.02l.70,-.02l.70,-.01l.70,-.01l.70,-.01l.70,-.01l.70,-.00l.70,-.00l.70,.00l.70,.00l.70,.01l.70,.01l.70,.01l.70,.01l.70,.01l.70,.02l.70,.02l.70,.02l.70,.02l.70,.02l.70,.02l.70,.02l.70,.02l.70,.02l.70,.02l.70,.03l.70,.03l.70,.03l.70,.03l.70,.03l.70,.03l.70,.03l.70,.03l.70,.03l.70,.02l.70,.02l.70,.02l.70,.02l.70,.02l.70,.02l.70,.02l.70,.02l.70,.02l.70,.01l.70,.01l.70,.01l.70,.01l.70,.01l.70,.01l.70,.00l.70,.00l.70,-.00l.70,-.00l.70,-.00l.70,-.01l.70,-.01l.70,-.01l.70,-.01l.70,-.01l.70,-.01l.70,-.02l.70,-.02l.70,-.02l.70,-.02l.70,-.02l.70,-.02l.70,-.02l.70,-.02l.70,-.02l.70,-.02l.70,-.02l.70,-.03l.70,-.03l.70,-.03l.70,-.03l.70,-.03l.70,-.03l.70,-.03l.70,-.03l.70,-.03l.70,-.03l.70,-.03l.70,-.03l.70,-.03l.70,-.03l.70,-.03l.70,-.02l.70,-.02l.70,-.02l.70,-.02l.70,-.02l.70,-.02l.70,-.02l.70,-.02l.70,-.02l.70,-.02l.70,-.02l.70,-.01l.70,-.01l.70,-.01l.70,-.01l.70,-.01l.70,-.01l.70,-.00l.70,-.00l.70,-.00l.70,.00l.70,.00l.70,.00l.70,.01l.70,.01l.70,.01l.70,.01l.70,.02l.70,.02l.70,.02l.70,.02l.70,.03l.70,.03l.70,.03l.70,.04l.70,.04l.70,.04l.70,.04l.70,.05l.70,.05l.70,.05l.70,.05l.70,.05l.70,.05l.70,.06l.70,.06l.70,.06l.70,.06l.70,.06l.70,.06l.70,.06l.70,.06l.70,.06l.70,.05l.70,.05l.70,.05l.70,.05l.70,.05l.70,.05l.70,.04l.70,.04l.70,.04l.70,.03l.70,.03l.70,.03l.70,.02l.70,.02l.70,.02l.70,.01l.70,.01l.70,.00l.70,-.00l.70,-.01l.70,-.02l.70,-.02l.70,-.03l.70,-.03l.70,-.04l.70,-.05l.70,-.05l.70,-.06l.70,-.07l.70,-.07l.70,-.08l.70,-.08l.70,-.09l.70,-.09l.70,-.10l.70,-.10l.70,-.10l.70,-.10l.70,-.11l.70,-.11l.70,-.11l.70,-.11l.70,-.11l.70,-.11l.70,-.11l.70,-.11l.70,-.10l.70,-.10l.70,-.10l.70,-.10l.70,-.09l.70,-.09l.70,-.09l.70,-.08l.70,-.08l.70,-.07l.70,-.07l.70,-.06l.70,-.05l.70,-.05l.70,-.04" fill="none" stroke="none" marker-start="url(#mk)" marker-mid="url(#mk)" marker-end="url(#mk)"/>
<path d="M1030.12,527.80l.70,1.17l.70,1.35l.70,1.55l.70,1.74l.70,1.92l.70,2.08l.70,2.18l.70,2.23l.70,2.20l.70,2.10l.70,1.94l.70,1.75l.70,1.55l.70,1.34l.70,1.14l.70,.95l.70,.78l.70,.63l.70,.49l.70,.36l.70,.25l.70,.15l.70,.05l.70,-.03l.70,-.09l.70,-.15l.70,-.21l.70,-.26l.70,-.31l.70,-.36l.70,-.41l.70,-.45l.70,-.51l.70,-.57l.70,-.63l.70,-.70l.70,-.78l.70,-.87l.70,-.97l.70,-1.08l.70,-1.20l.70,-1.33l.70,-1.47l.70,-1.61l.70,-1.75l.70,-1.87l.70,-1.96l.70,-2.00l.70,-1.99l.70,-1.92l.70,-1.82l.70,-1.69l.70,-1.54l.70,-1.40l.70,-1.26l.70,-1.14l.70,-1.02l.70,-.92l.70,-.82l.70,-.74l.70,-.66l.70,-.59l.70,-.54l.70,-.49l.70,-.45l.70,-.41l.70,-.38l.70,-.35l.70,-.32l.70,-.30l.70,-.28l.70,-.26l.70,-.24l.70,-.22l.70,-.21l.70,-.19l.70,-.18l.70,-.16l.70,-.15l.70,-.14l.70,-.12l.70,-.11l.70,-.10l.70,-.09l.70,-.08l.70,-.07l.70,-.06l.70,-.05l.70,-.05l.70,-.04l.70,-.03l.70,-.02l.70,-.02l.70,-.01l.70,-.00l.70,.00l.70,.01l.70,.02l.70,.02l.70,.03l.70,.03l.70,.04l.70,.05l.70,.05l.70,.06l.70,.06l.70,.07l.70,.07l.70,.08l.70,.08l.70,.09l.70,.09l.70,.09l.70,.10l.70,.10l.70,.11l.70,.11l.70,.11l.70,.12l.70,.12l.70,.12l.70,.13l.70,.13l.70,.13l.70,.14l.70,.14l.70,.14l.70,.14l.70,.15l.70,.15l.70,.15l.70,.15l.70,.15l.70,.16l.70,.16l.70,.16l.70,.16l.70,.16l.70,.16l.70,.16l.70,.16l.70,.16l.70,.16l.70,.16l.70,.16l.70,.16l.70,.16l.70,.16l.70,.16l.70,.16l.70,.16l.70,.16l.70,.16l.70,.16l.70,.16l.70,.16l.70,.16l.70,.15l.70,.15l.70,.15l.70,.15l.70,.15l.70,.15l.70,.15l.70,.15l.70,.14l.70,.14l.70,.14l.70,.14l.70,.14l.70,.14l.70,.14l.70,.14l.70,.14l.70,.14l.70,.13l.70,.13l.70,.13l.70,.13l.70,.13l.70,.13l.70,.13l.70,.13l.70,.13l.70,.13l.70,.13l.70,.13l.70,.13l.70,.13l.70,.13l.70,.13l.70,.13l.70,.13l.70,.13l.70,.13l.70,.13l.70,.13l.70,.13l.70,.13l.70,.13l.70,.13l.70,.13l.70,.13l.70,.13l.70,.13l.70,.13l.70,.13l.70,.13l.70,.13l.70,.13l.70,.13l.70,.13l.70,.14l.70,.14l.70,.14l.70,.14l.70,.14l.70,.14l.70,.14l.70,.14l.70,.14l.70,.14l.70,.14l.70,.14l.70,.15l.70,.15l.70,.15l.70,.15l.70,.15l.70,.15l.70,.15l.70,.15l.70,.15l.70,.15l.70,.15l.70,.15l.70,.15l.70,.15l.70,.15l.70,.15l.70,.15l.70,.16l.70,.16l.70,.16l.70,.16l.70,.16l.70,.16l.70,.16l.70,.16l.70,.16l.70,.16l.70,.16l.70,.16l.70,.16l.70,.16l.70,.16l.70,.16l.70,.16l.70,.16l.70,.16l.70,.16l.70,.16l.70,.16l.70,.16l.70,.16l.70,.16l.70,.16l.70,.16l.70,.17l.70,.17l.70,.17l.70,.17l.70,.17l.70,.17l.70,.17l.70,.17l.70,.17l.70,.17l.70,.17l.70,.17l.70,.17l.70,.17l.70,.17l.70,.17l.70,.17l.70,.17l.70,.17l.70,.17l.70,.17l.70,.17l.70,.17l.70,.17l.70,.17l.70,.17l.70,.17l.70,.17l.70,.17l.70,.17l.70,.17l.70,.17l.70,.17l.70,.17l.70,.16l.70,.16l.70,.16l.70,.16l.70,.16l.70,.16l.70,.16l.70,.16l.70,.16l.70,.16l.70,.16l.70,.16l.70,.16l.70,.16l.70,.16l.70,.16l.70,.16l.70,.16l.70,.16l.70,.16l.70,.16l.70,.16l.70,.16l.70,.16l.70,.16l.70,.16l.70,.16l.70,.16l.70,.15l.70,.15l.70,.15l.70,.15l.70,.15l.70,.15l.70,.15l.70,.15l.70,.15l.70,.15l.70,.15l.70,.15l.70,.15l.70,.15l.70,.15l.70,.15l.70,.15l.70,.15l.70,.15l.70,.14l.70,.14l.70,.14l.70,.14l.70,.14l.70,.14l.70,.14l.70,.14l.70,.14l.70,.14l.70,.14l.70,.14l.70,.14l.70,.14l.70,.14l.70,.14l.70,.14l.70,.14l.70,.13l.70,.13l.70,.13l.70,.13l.70,.13l.70,.13l.70,.13l.70,.13l.70,.13l.70,.13l.70,.13l.70,.13l.70,.13l.70,.13l.70,.13l.70,.13l.70,.13l.70,.12l.70,.12l.70,.12l.70,.12l.70,.12l.70,.12l.70,.12l.70,.12l.70,.12l.70,.12l.70,.12l.70,.12l.70,.12l.70,.12l.70,.12l.70,.12l.70,.12l.70,.11l.70,.11l.70,.11l.70,.11l.70,.11l.70,.11l.70,.11l.70,.11l.70,.11l.70,.11l.70,.11l.70,.11l.70,.11l.70,.11l.70,.11l.70,.10l.70,.10l.70,.10l.70,.10l.70,.10l.70,.10l.70,.10l.70,.10l.70,.10l.70,.10l.70,.10l.70,.10l.70,.10l.70,.10l.70,.10l.70,.09l.70,.09l.70,.09l.70,.09l.70,.09l.70,.09l.70,.09l.70,.09l.70,.09l.70,.09l.70,.09l.70,.09l.70,.09l.70,.09l.70,.09l.70,.08l.70,.08l.70,.08l.70,.08l.70,.08l.70,.08l.70,.08l.70,.08l.70,.08l.70,.08l.70,.08l.70,.08l.70,.08l.70,.08l.70,.08l.70,.08l.70,.07l.70,.07l.70,.07l.70,.07l.70,.07l.70,.07l.70,.07l.70,.07l.70,.07l.70,.07l.70,.07l.70,.07l.70,.07l.70,.07l.70,.07l.70,.07l.70,.07l.70,.07l.70,.07l.70,.07l.70,.06l.70,.06l.70,.06l.70,.06l.70,.06l.70,.06l.70,.06l.70,.06l.70,.06l.70,.06l.70,.06l.70,.06l.70,.06l.70,.06l.70,.06l.70,.06l.70,.06l.70,.06l.70,.06l.70,.06l.70,.06l.70,.06l.70,.06l.70,.06l.70,.06l.70,.06l.70,.05l.70,.05l.70,.05l.70,.05l.70,.05l.70,.05l.70,.05l.70,.05l.70,.05l.70,.05l.70,.05l.70,.05l.70,.05l.70,.05l.70,.05l.70,.05l.70,.05l.70,.05l.70,.05l.70,.05l.70,.05l.70,.05l.70,.05l.70,.05l.70,.05l.70,.05l.70,.05l.70,.05l.70,.05l.70,.05l.70,.05l.70,.05l.70,.05l.70,.05l.70,.05l.70,.05l.70,.05l.70,.05l.70,.05l.70,.05l.70,.05l.70,.05l.70,.05l.70,.05l.70,.05l.70,.05l.70,.05l.70,.05l.70,.05l.70,.05l.70,.05l.70,.05l.70,.05l.70,.05l.70,.05l.70,.05l.70,.05l.70,.05l.70,.05l.70,.05l.70,.05l.70,.05l.70,.05l.70,.05l.70,.05l.70,.05l.70,.05l.70,.05l.70,.05l.70,.05l.70,.05l.70,.05l.70,.05l.70,.05l.70,.05l.70,.05l.70,.04l.70,.04l.70,.04l.70,.04l.70,.04l.70,.04l.70,.04l.70,.04l.70,.04l.70,.04l.70,.04l.70,.04l.70,.04l.70,.04l.70,.04l.70,.04l.70,.04l.70,.04l.70,.04l.70,.04l.70,.04l.70,.04l.70,.04l.70,.04l.70,.04l.70,.04l.70,.04l.70,.04l.70,.04l.70,.04l.70,.04l.70,.04l.70,.04l.70,.04l.70,.04l.70,.04l.70,.04l.70,.04l.70,.04l.70,.04l.70,.04l.70,.04l.70,.04l.70,.04l.70,.04l.70,.04l.70,.04l.70,.04l.70,.04l.70,.04l.70,.04l.70,.04l.70,.04l.70,.04l.70,.04l.70,.04l.70,.04l.70,.04l.70,.04l.70,.04l.70,.04l.70,.03l.70,.03l.70,.03l.70,.03l.70,.03l.70,.03l.70,.03l.70,.03l.70,.03l.70,.03l.70,.03l.70,.03l.70,.03l.70,.03l.70,.03l.70,.03l.70,.03l.70,.03l.70,.03l.70,.03l.70,.03l.70,.03l.70,.03l.70,.03l.70,.03l.70,.03l.70,.03l.70,.03l.70,.03l.70,.03l.70,.03l.70,.03l.70,.03l.70,.03l.70,.03l.70,.03l.70,.02l.70,.02l.70,.02l.70,.02l.70,.02l.70,.02l.70,.02l.70,.02l.70,.02l.70,.02l.70,.02l.70,.02l.70,.02l.70,.02l.70,.02l.70,.02l.70,.02l.70,.02l.70,.02l.70,.02l.70,.02l.70,.02l.70,.02l.70,.02l.70,.02l.70,.02l.70,.02l.70,.02l.70,.02l.70,.01l.70,.01l.70,.01l.70,.01l.70,.01l.70,.01l.70,.01l.70,.01l.70,.01l.70,.01l.70,.01l.70,.01l.70,.01l.70,.01l.70,.01l.70,.01l.70,.01l.70,.01l.70,.01l.70,.01l.70,.01l.70,.01l.70,.01l.70,.01l.70,.01l.70,.01l.70,.01l.70,.01l.70,.01l.70,.01l.70,.01l.70,.01l.70,.01l.70,.01l.70,.01l.70,.00l.70,.00l.70,.00l.70,.00l.70,.00l.70,.00l.70,.00l.70,.00l.70,.01l.70,.01l.70,.01l.70,.01l.70,.01l.70,.01l.70,.01l.70,.01l.70,.01l.70,.01l.70,.01l.70,.01l.70,.01l.70,.01l.70,.01l.70,.01l.70,.01l.70,.01l.70,.01l.70,.01l.70,.01l.70,.01l.70,.01l.70,.01l.70,.01l.70,.01l.70,.01l.70,.01l.70,.01l.70,.01l.70,.01l.70,.01l.70,.01l.70,.01l.70,.02l.70,.02l.70,.02l.70,.02l.70,.02l.70,.02l.70,.02l.70,.02l.70,.02l.70,.02l.70,.02l.70,.02l.70,.02l.70,.02l.70,.02l.70,.03l.70,.03l.70,.03l.70,.03l.70,.03l.70,.03l.70,.03l.70,.03l.70,.03l.70,.03l.70,.03l.70,.03l.70,.04l.70,.04l.70,.04l.70,.04l.70,.04l.70,.04l.70,.04l.70,.04l.70,.04l.70,.04l.70,.04l.70,.04l.70,.04l.70,.04l.70,.04l.70,.05l.70,.05l.70,.05l.70,.05l.70,.05l.70,.05l.70,.05l.70,.05l.70,.05l.70,.05l.70,.05l.70,.05l.70,.05l.70,.05l.70,.05l.70,.05l.70,.05l.70,.05l.70,.05l.70,.04l.70,.04l.70,.04l.70,.04l.70,.04l.70,.04l.70,.04l.70,.04l.70,.04l.70,.04l.70,.04l.70,.04l.70,.04l.70,.04l.70,.04l.70,.03l.70,.03l.70,.03l.70,.03l.70,.03l.70,.03l.70,.03l.70,.03l.70,.03l.70,.02l.70,.02l.70,.02l.70,.02l.70,.02l.70,.02l.70,.02l.70,.01l.70,.01l.70,.01l.70,.01l.70,.01l.70,.01l.70,.00l.70,.00l.70,.00l.70,-.00l.70,-.00l.70,-.01l.70,-.01l.70,-.01l.70,-.01l.70,-.01l.70,-.02l.70,-.02l.70,-.02l.70,-.02l.70,-.03l.70,-.03l.70,-.03l.70,-.03l.70,-.03l.70,-.04l.70,-.04l.70,-.04l.70,-.04l.70,-.04l.70,-.05l.70,-.05l.70,-.05l.70,-.05l.70,-.05l.70,-.05l.70,-.05l.70,-.05l.70,-.05l.70,-.05l.70,-.05l.70,-.05l.70,-.05l.70,-.05l.70,-.05l.70,-.05l.70,-.05l.70,-.05l.70,-.05l.70,-.05l.70,-.05l.70,-.05l.70,-.05l.70,-.04l.70,-.04l.70,-.04l.70,-.04l.70,-.04l.70,-.04l.70,-.03l.70,-.03l.70,-.03l.70,-.03l.70,-.02l.70,-.02l.70,-.02l.70,-.01l.70,-.01l.70,-.01l.70,-.00l.70,-.00l.70,.00l.70,.01l.70,.01l.70,.01l.70,.02l.70,.02l.70,.02l.70,.02l.70,.03l.70,.03l.70,.03l.70,.03l.70,.03l.70,.03l.70,.04l.70,.04l.70,.04l.70,.04l.70,.04l.70,.04l.70,.04l.70,.04l.70,.04l.70,.04l.70,.04l.70,.04l.70,.04l.70,.04l.70,.04l.70,.04l.70,.04l.70,.03l.70,.03l.70,.03l.70,.03l.70,.03l.70,.03l.70,.02l.70,.02l.70,.02l.70,.02l.70,.01l.70,.01l.70,.01l.70,.01l.70,.00l.70,.00l.70,-.00l.70,-.00l.70,-.00l.70,-.01l.70,-.01l.70,-.01l.70,-.01l.70,-.01l.70,-.01l.70,-.02l.70,-.02l.70,-.02l.70,-.02l.70,-.02l.70,-.02l.70,-.02l.70,-.02l.70,-.02l.70,-.03l.70,-.03l.70,-.03l.70,-.03l.70,-.03l.70,-.03l.70,-.03l.70,-.03l.70,-.03l.70,-.03l.70,-.03l.70,-.03l.70,-.03l.70,-.03l.70,-.03l.70,-.03l.70,-.03l.70,-.03l.70,-.02l.70,-.02l.70,-.02l.70,-.02l.70,-.02l.70,-.02l.70,-.02l.70,-.02l.70,-.02l.70,-.01l.70,-.01l.70,-.01l.70,-.01l.70,-.01l.70,-.00l.70,-.00l.70,-.00l.70,.00l.70,.00l.70,.01l.70,.01l.70,.01l.70,.01l.70,.02l.70,.02l.70,.02l.70,.02l.70,.03l.70,.03l.70,.03l.70,.04l.70,.04l.70,.04l.70,.05l.70,.05l.70,.05l.70,.05l.70,.05l.70,.05l.70,.06l.70,.06l.70,.06l.70,.06l.70,.06l.70,.06l.70,.06l.70,.06l.70,.06l.70,.05l.70,.05l.70,.05l.70,.05l.70,.05l.70,.04l.70,.04l.70,.04l.70,.04l.70,.03l.70,.03l.70,.02l.70,.02l.70,.02l.70,.01l.70,.01l.70,.00l.70,-.01l.70,-.01l.70,-.02l.70,-.02l.70,-.03l.70,-.04l.70,-.04l.70,-.05l.70,-.06l.70,-.07l.70,-.07l.70,-.08l.70,-.09l.70,-.09l.70,-.10l.70,-.10l.70,-.11l.70,-.11l.70,-.12l.70,-.12l.70,-.12l.70,-.12l.70,-.13l.70,-.13l.70,-.13l.70,-.13l.70,-.13l.70,-.13l.70,-.13l.70,-.13l.70,-.13l.70,-.13l.70,-.13l.70,-.12l.70,-.12l.70,-.12l.70,-.11l.70,-.11l.70,-.10l.70,-.10l.70,-.09l.70,-.09l.70,-.08l.70,-.07" fill="none" stroke="none" marker-start="url(#mr)" marker-mid="url(#mr)" marker-end="url(#mr)"/>
<path d="M1030.12,505.99l.70,.99l.70,1.20l.70,1.43l.70,1.67l.70,1.91l.70,2.14l.70,2.32l.70,2.44l.70,2.47l.70,2.41l.70,2.27l.70,2.07l.70,1.84l.70,1.60l.70,1.37l.70,1.15l.70,.94l.70,.76l.70,.59l.70,.44l.70,.31l.70,.18l.70,.07l.70,-.02l.70,-.11l.70,-.18l.70,-.25l.70,-.30l.70,-.35l.70,-.40l.70,-.44l.70,-.48l.70,-.53l.70,-.57l.70,-.61l.70,-.66l.70,-.71l.70,-.77l.70,-.84l.70,-.91l.70,-.99l.70,-1.07l.70,-1.17l.70,-1.27l.70,-1.37l.70,-1.47l.70,-1.56l.70,-1.63l.70,-1.68l.70,-1.69l.70,-1.67l.70,-1.64l.70,-1.59l.70,-1.53l.70,-1.46l.70,-1.38l.70,-1.31l.70,-1.23l.70,-1.16l.70,-1.09l.70,-1.02l.70,-.96l.70,-.89l.70,-.82l.70,-.76l.70,-.70l.70,-.64l.70,-.59l.70,-.54l.70,-.50l.70,-.46l.70,-.42l.70,-.38l.70,-.35l.70,-.32l.70,-.29l.70,-.26l.70,-.23l.70,-.20l.70,-.17l.70,-.14l.70,-.12l.70,-.09l.70,-.07l.70,-.05l.70,-.03l.70,-.01l.70,.01l.70,.03l.70,.04l.70,.06l.70,.07l.70,.08l.70,.09l.70,.10l.70,.11l.70,.11l.70,.12l.70,.12l.70,.12l.70,.12l.70,.12l.70,.12l.70,.12l.70,.12l.70,.12l.70,.12l.70,.12l.70,.13l.70,.13l.70,.13l.70,.13l.70,.13l.70,.13l.70,.13l.70,.13l.70,.13l.70,.13l.70,.13l.70,.13l.70,.13l.70,.13l.70,.13l.70,.13l.70,.13l.70,.13l.70,.13l.70,.13l.70,.13l.70,.13l.70,.13l.70,.13l.70,.13l.70,.13l.70,.13l.70,.13l.70,.13l.70,.13l.70,.13l.70,.13l.70,.14l.70,.14l.70,.14l.70,.14l.70,.14l.70,.14l.70,.14l.70,.14l.70,.14l.70,.14l.70,.14l.70,.14l.70,.14l.70,.14l.70,.14l.70,.14l.70,.14l.70,.14l.70,.14l.70,.14l.70,.14l.70,.14l.70,.14l.70,.14l.70,.14l.70,.14l.70,.14l.70,.14l.70,.14l.70,.14l.70,.14l.70,.14l.70,.14l.70,.14l.70,.14l.70,.14l.70,.14l.70,.14l.70,.15l.70,.15l.70,.15l.70,.15l.70,.15l.70,.15l.70,.15l.70,.15l.70,.15l.70,.15l.70,.15l.70,.15l.70,.15l.70,.15l.70,.15l.70,.15l.70,.15l.70,.15l.70,.15l.70,.15l.70,.15l.70,.15l.70,.15l.70,.15l.70,.15l.70,.15l.70,.15l.70,.15l.70,.15l.70,.15l.70,.15l.70,.15l.70,.15l.70,.15l.70,.15l.70,.15l.70,.15l.70,.15l.70,.15l.70,.15l.70,.15l.70,.15l.70,.15l.70,.15l.70,.15l.70,.15l.70,.15l.70,.15l.70,.15l.70,.15l.70,.15l.70,.15l.70,.15l.70,.15l.70,.15l.70,.15l.70,.15l.70,.16l.70,.16l.70,.16l.70,.16l.70,.16l.70,.16l.70,.16l.70,.16l.70,.16l.70,.16l.70,.16l.70,.16l.70,.16l.70,.16l.70,.16l.70,.16l.70,.16l.70,.16l.70,.16l.70,.16l.70,.16l.70,.16l.70,.16l.70,.16l.70,.16l.70,.16l.70,.16l.70,.16l.70,.16l.70,.16l.70,.16l.70,.16l.70,.16l.70,.16l.70,.16l.70,.16l.70,.16l.70,.16l.70,.16l.70,.16l.70,.16l.70,.16l.70,.16l.70,.16l.70,.16l.70,.16l.70,.16l.70,.15l.70,.15l.70,.15l.70,.15l.70,.15l.70,.15l.70,.15l.70,.15l.70,.15l.70,.15l.70,.15l.70,.15l.70,.15l.70,.15l.70,.15l.70,.15l.70,.15l.70,.15l.70,.15l.70,.15l.70,.15l.70,.15l.70,.15l.70,.15l.70,.15l.70,.15l.70,.15l.70,.15l.70,.15l.70,.15l.70,.15l.70,.15l.70,.15l.70,.15l.70,.15l.70,.15l.70,.15l.70,.15l.70,.15l.70,.15l.70,.15l.70,.15l.70,.15l.70,.15l.70,.15l.70,.15l.70,.15l.70,.15l.70,.15l.70,.15l.70,.15l.70,.15l.70,.15l.70,.14l.70,.14l.70,.14l.70,.14l.70,.14l.70,.14l.70,.14l.70,.14l.70,.14l.70,.14l.70,.14l.70,.14l.70,.14l.70,.14l.70,.14l.70,.14l.70,.14l.70,.14l.70,.14l.70,.14l.70,.14l.70,.14l.70,.14l.70,.14l.70,.14l.70,.14l.70,.14l.70,.14l.70,.14l.70,.13l.70,.13l.70,.13l.70,.13l.70,.13l.70,.13l.70,.13l.70,.13l.70,.13l.70,.13l.70,.13l.70,.13l.70,.13l.70,.13l.70,.13l.70,.13l.70,.13l.70,.13l.70,.13l.70,.13l.70,.13l.70,.13l.70,.12l.70,.12l.70,.12l.70,.12l.70,.12l.70,.12l.70,.12l.70,.12l.70,.12l.70,.12l.70,.12l.70,.12l.70,.12l.70,.12l.70,.12l.70,.12l.70,.12l.70,.12l.70,.12l.70,.12l.70,.11l.70,.11l.70,.11l.70,.11l.70,.11l.70,.11l.70,.11l.70,.11l.70,.11l.70,.11l.70,.11l.70,.11l.70,.11l.70,.11l.70,.11l.70,.11l.70,.11l.70,.10l.70,.10l.70,.10l.70,.10l.70,.10l.70,.10l.70,.10l.70,.10l.70,.10l.70,.10l.70,.10l.70,.10l.70,.10l.70,.10l.70,.10l.70,.09l.70,.09l.70,.09l.70,.09l.70,.09l.70,.09l.70,.09l.70,.09l.70,.09l.70,.09l.70,.09l.70,.09l.70,.09l.70,.09l.70,.09l.70,.08l.70,.08l.70,.08l.70,.08l.70,.08l.70,.08l.70,.08l.70,.08l.70,.08l.70,.08l.70,.08l.70,.08l.70,.08l.70,.08l.70,.08l.70,.08l.70,.08l.70,.07l.70,.07l.70,.07l.70,.07l.70,.07l.70,.07l.70,.07l.70,.07l.70,.07l.70,.07l.70,.07l.70,.07l.70,.07l.70,.07l.70,.07l.70,.07l.70,.07l.70,.07l.70,.07l.70,.07l.70,.07l.70,.06l.70,.06l.70,.06l.70,.06l.70,.06l.70,.06l.70,.06l.70,.06l.70,.06l.70,.06l.70,.06l.70,.06l.70,.06l.70,.06l.70,.06l.70,.06l.70,.06l.70,.06l.70,.06l.70,.06l.70,.06l.70,.06l.70,.06l.70,.06l.70,.06l.70,.06l.70,.05l.70,.05l.70,.05l.70,.05l.70,.05l.70,.05l.70,.05l.70,.05l.70,.05l.70,.05l.70,.05l.70,.05l.70,.05l.70,.05l.70,.05l.70,.05l.70,.05l.70,.05l.70,.05l.70,.05l.70,.05l.70,.05l.70,.05l.70,.05l.70,.05l.70,.05l.70,.05l.70,.05l.70,.05l.70,.05l.70,.05l.70,.05l.70,.05l.70,.05l.70,.05l.70,.05l.70,.05l.70,.05l.70,.05l.70,.05l.70,.05l.70,.05l.70,.05l.70,.05l.70,.05l.70,.05l.70,.05l.70,.05l.70,.05l.70,.05l.70,.04l.70,.04l.70,.04l.70,.04l.70,.04l.70,.04l.70,.04l.70,.04l.70,.04l.70,.04l.70,.04l.70,.04l.70,.04l.70,.04l.70,.04l.70,.04l.70,.04l.70,.04l.70,.04l.70,.04l.70,.04l.70,.04l.70,.04l.70,.04l.70,.04l.70,.04l.70,.04l.70,.04l.70,.04l.70,.04l.70,.04l.70,.04l.70,.04l.70,.04l.70,.04l.70,.04l.70,.04l.70,.04l.70,.04l.70,.04l.70,.04l.70,.04l.70,.04l.70,.04l.70,.04l.70,.04l.70,.04l.70,.04l.70,.04l.70,.04l.70,.04l.70,.04l.70,.04l.70,.04l.70,.04l.70,.04l.70,.04l.70,.04l.70,.04l.70,.04l.70,.04l.70,.04l.70,.03l.70,.03l.70,.03l.70,.03l.70,.03l.70,.03l.70,.03l.70,.03l.70,.03l.70,.03l.70,.03l.70,.03l.70,.03l.70,.03l.70,.03l.70,.03l.70,.03l.70,.03l.70,.03l.70,.03l.70,.03l.70,.03l.70,.03l.70,.03l.70,.03l.70,.03l.70,.03l.70,.03l.70,.03l.70,.03l.70,.03l.70,.03l.70,.03l.70,.03l.70,.03l.70,.03l.70,.03l.70,.03l.70,.03l.70,.03l.70,.03l.70,.03l.70,.03l.70,.03l.70,.03l.70,.03l.70,.02l.70,.02l.70,.02l.70,.02l.70,.02l.70,.02l.70,.02l.70,.02l.70,.02l.70,.02l.70,.02l.70,.02l.70,.02l.70,.02l.70,.02l.70,.02l.70,.02l.70,.02l.70,.02l.70,.02l.70,.02l.70,.02l.70,.02l.70,.02l.70,.02l.70,.02l.70,.02l.70,.02l.70,.02l.70,.02l.70,.02l.70,.02l.70,.02l.70,.02l.70,.02l.70,.02l.70,.02l.70,.02l.70,.02l.70,.01l.70,.01l.70,.01l.70,.01l.70,.01l.70,.01l.70,.01l.70,.01l.70,.01l.70,.01l.70,.01l.70,.01l.70,.01l.70,.01l.70,.01l.70,.01l.70,.01l.70,.01l.70,.01l.70,.01l.70,.01l.70,.01l.70,.01l.70,.01l.70,.01l.70,.01l.70,.01l.70,.01l.70,.01l.70,.01l.70,.01l.70,.01l.70,.01l.70,.01l.70,.01l.70,.01l.70,.01l.70,.01l.70,.01l.70,.01l.70,.01l.70,.01l.70,.01l.70,.01l.70,.01l.70,.01l.70,.01l.70,.01l.70,.01l.70,.01l.70,.01l.70,.01l.70,.01l.70,.01l.70,.01l.70,.01l.70,.01l.70,.01l.70,.01l.70,.01l.70,.01l.70,.01l.70,.01l.70,.01l.70,.01l.70,.01l.70,.01l.70,.01l.70,.01l.70,.01l.70,.01l.70,.01l.70,.01l.70,.01l.70,.01l.70,.01l.70,.01l.70,.01l.70,.01l.70,.01l.70,.01l.70,.01l.70,.01l.70,.01l.70,.01l.70,.01l.70,.01l.70,.01l.70,.01l.70,.01l.70,.01l.70,.01l.70,.01l.70,.01l.70,.01l.70,.02l.70,.02l.70,.02l.70,.02l.70,.02l.70,.02l.70,.02l.70,.02l.70,.02l.70,.02l.70,.02l.70,.02l.70,.02l.70,.02l.70,.02l.70,.02l.70,.02l.70,.02l.70,.02l.70,.03l.70,.03l.70,.03l.70,.03l.70,.03l.70,.03l.70,.03l.70,.03l.70,.03l.70,.03l.70,.03l.70,.03l.70,.03l.70,.04l.70,.04l.70,.04l.70,.04l.70,.04l.70,.04l.70,.04l.70,.04l.70,.04l.70,.04l.70,.04l.70,.04l.70,.04l.70,.04l.70,.04l.70,.04l.70,.04l.70,.04l.70,.04l.70,.04l.70,.04l.70,.04l.70,.04l.70,.04l.70,.04l.70,.04l.70,.04l.70,.04l.70,.04l.70,.04l.70,.04l.70,.03l.70,.03l.70,.03l.70,.03l.70,.03l.70,.03l.70,.03l.70,.03l.70,.02l.70,.02l.70,.02l.70,.02l.70,.02l.70,.02l.70,.01l.70,.01l.70,.01l.70,.01l.70,.01l.70,.00l.70,.00l.70,-.00l.70,-.00l.70,-.01l.70,-.01l.70,-.01l.70,-.01l.70,-.02l.70,-.02l.70,-.02l.70,-.03l.70,-.03l.70,-.03l.70,-.03l.70,-.04l.70,-.04l.70,-.04l.70,-.04l.70,-.04l.70,-.04l.70,-.05l.70,-.05l.70,-.05l.70,-.05l.70,-.05l.70,-.05l.70,-.05l.70,-.05l.70,-.05l.70,-.05l.70,-.05l.70,-.05l.70,-.05l.70,-.05l.70,-.05l.70,-.05l.70,-.05l.70,-.05l.70,-.05l.70,-.05l.70,-.04l.70,-.04l.70,-.04l.70,-.04l.70,-.04l.70,-.04l.70,-.03l.70,-.03l.70,-.03l.70,-.03l.70,-.02l.70,-.02l.70,-.02l.70,-.01l.70,-.01l.70,-.01l.70,-.00l.70,.00l.70,.01l.70,.01l.70,.01l.70,.02l.70,.02l.70,.02l.70,.02l.70,.03l.70,.03l.70,.03l.70,.03l.70,.03l.70,.04l.70,.04l.70,.04l.70,.04l.70,.04l.70,.04l.70,.04l.70,.04l.70,.04l.70,.04l.70,.04l.70,.04l.70,.04l.70,.04l.70,.04l.70,.04l.70,.04l.70,.04l.70,.04l.70,.04l.70,.04l.70,.03l.70,.03l.70,.03l.70,.03l.70,.03l.70,.02l.70,.02l.70,.02l.70,.02l.70,.01l.70,.01l.70,.01l.70,.00l.70,.00l.70,.00l.70,-.00l.70,-.00l.70,-.01l.70,-.01l.70,-.01l.70,-.01l.70,-.01l.70,-.02l.70,-.02l.70,-.02l.70,-.02l.70,-.02l.70,-.02l.70,-.02l.70,-.02l.70,-.03l.70,-.03l.70,-.03l.70,-.03l.70,-.03l.70,-.03l.70,-.03l.70,-.03l.70,-.03l.70,-.03l.70,-.03l.70,-.03l.70,-.03l.70,-.03l.70,-.03l.70,-.03l.70,-.03l.70,-.03l.70,-.03l.70,-.03l.70,-.03l.70,-.02l.70,-.02l.70,-.02l.70,-.02l.70,-.02l.70,-.02l.70,-.02l.70,-.02l.70,-.01l.70,-.01l.70,-.01l.70,-.01l.70,-.01l.70,-.01l.70,-.00l.70,-.00l.70,.00l.70,.00l.70,.01l.70,.01l.70,.01l.70,.01l.70,.02l.70,.02l.70,.02l.70,.03l.70,.03l.70,.03l.70,.04l.70,.04l.70,.04l.70,.04l.70,.05l.70,.05l.70,.05l.70,.05l.70,.06l.70,.06l.70,.06l.70,.06l.70,.06l.70,.06l.70,.06l.70,.06l.70,.06l.70,.06l.70,.06l.70,.06l.70,.06l.70,.05l.70,.05l.70,.05l.70,.05l.70,.04l.70,.04l.70,.04l.70,.03l.70,.03l.70,.03l.70,.02l.70,.02l.70,.01l.70,.01l.70,.00l.70,-.00l.70,-.01l.70,-.01l.70,-.02l.70,-.03l.70,-.03l.70,-.04l.70,-.05l.70,-.06l.70,-.06l.70,-.07l.70,-.08l.70,-.08l.70,-.09l.70,-.10l.70,-.10l.70,-.11l.70,-.11l.70,-.11l.70,-.12l.70,-.12l.70,-.12l.70,-.12l.70,-.12l.70,-.12l.70,-.12l.70,-.12l.70,-.12l.70,-.12l.70,-.12l.70,-.12l.70,-.11l.70,-.11l.70,-.11l.70,-.10l.70,-.10l.70,-.09l.70,-.09l.70,-.08l.70,-.07l.70,-.07l.70,-.06l.70,-.05l.70,-.04" fill="none" stroke="none" marker-start="url(#mb)" marker-mid="url(#mb)" marker-end="url(#mb)"/>
<path d="M1030.09,481.91l.70,.81l.70,.96l.70,1.14l.70,1.34l.70,1.58l.70,1.85l.70,2.15l.70,2.48l.70,2.80l.70,3.04l.70,3.10l.70,2.96l.70,2.63l.70,2.23l.70,1.82l.70,1.45l.70,1.13l.70,.86l.70,.64l.70,.45l.70,.29l.70,.15l.70,.04l.70,-.07l.70,-.15l.70,-.22l.70,-.28l.70,-.33l.70,-.38l.70,-.42l.70,-.46l.70,-.50l.70,-.54l.70,-.58l.70,-.63l.70,-.67l.70,-.72l.70,-.78l.70,-.84l.70,-.91l.70,-.98l.70,-1.05l.70,-1.13l.70,-1.20l.70,-1.27l.70,-1.31l.70,-1.34l.70,-1.33l.70,-1.32l.70,-1.31l.70,-1.30l.70,-1.29l.70,-1.28l.70,-1.27l.70,-1.27l.70,-1.26l.70,-1.26l.70,-1.26l.70,-1.23l.70,-1.18l.70,-1.11l.70,-1.03l.70,-.95l.70,-.87l.70,-.79l.70,-.72l.70,-.65l.70,-.60l.70,-.55l.70,-.51l.70,-.48l.70,-.45l.70,-.42l.70,-.39l.70,-.37l.70,-.35l.70,-.32l.70,-.30l.70,-.28l.70,-.26l.70,-.24l.70,-.22l.70,-.20l.70,-.18l.70,-.16l.70,-.14l.70,-.13l.70,-.11l.70,-.10l.70,-.08l.70,-.07l.70,-.06l.70,-.04l.70,-.03l.70,-.02l.70,-.01l.70,.00l.70,.01l.70,.02l.70,.03l.70,.03l.70,.04l.70,.05l.70,.05l.70,.06l.70,.06l.70,.07l.70,.08l.70,.08l.70,.09l.70,.09l.70,.10l.70,.10l.70,.11l.70,.11l.70,.12l.70,.12l.70,.13l.70,.13l.70,.14l.70,.14l.70,.14l.70,.15l.70,.15l.70,.15l.70,.16l.70,.16l.70,.16l.70,.16l.70,.17l.70,.17l.70,.17l.70,.17l.70,.18l.70,.18l.70,.18l.70,.18l.70,.18l.70,.18l.70,.18l.70,.18l.70,.18l.70,.19l.70,.19l.70,.19l.70,.19l.70,.19l.70,.19l.70,.18l.70,.18l.70,.18l.70,.18l.70,.18l.70,.18l.70,.18l.70,.18l.70,.18l.70,.17l.70,.17l.70,.17l.70,.17l.70,.17l.70,.17l.70,.16l.70,.16l.70,.16l.70,.16l.70,.16l.70,.16l.70,.16l.70,.15l.70,.15l.70,.15l.70,.15l.70,.15l.70,.15l.70,.15l.70,.15l.70,.15l.70,.14l.70,.14l.70,.14l.70,.14l.70,.14l.70,.14l.70,.14l.70,.14l.70,.14l.70,.14l.70,.14l.70,.14l.70,.14l.70,.14l.70,.14l.70,.14l.70,.14l.70,.14l.70,.14l.70,.14l.70,.14l.70,.14l.70,.14l.70,.14l.70,.14l.70,.14l.70,.14l.70,.14l.70,.14l.70,.14l.70,.14l.70,.14l.70,.14l.70,.14l.70,.14l.70,.14l.70,.14l.70,.15l.70,.15l.70,.15l.70,.15l.70,.15l.70,.15l.70,.15l.70,.15l.70,.15l.70,.15l.70,.15l.70,.15l.70,.15l.70,.15l.70,.15l.70,.15l.70,.15l.70,.15l.70,.16l.70,.16l.70,.16l.70,.16l.70,.16l.70,.16l.70,.16l.70,.16l.70,.16l.70,.16l.70,.16l.70,.16l.70,.16l.70,.16l.70,.16l.70,.16l.70,.16l.70,.16l.70,.16l.70,.16l.70,.16l.70,.16l.70,.16l.70,.16l.70,.16l.70,.16l.70,.16l.70,.16l.70,.16l.70,.16l.70,.16l.70,.16l.70,.16l.70,.16l.70,.16l.70,.16l.70,.16l.70,.16l.70,.16l.70,.16l.70,.16l.70,.16l.70,.16l.70,.16l.70,.16l.70,.16l.70,.16l.70,.16l.70,.16l.70,.16l.70,.16l.70,.16l.70,.16l.70,.16l.70,.16l.70,.16l.70,.16l.70,.16l.70,.16l.70,.16l.70,.16l.70,.16l.70,.16l.70,.16l.70,.16l.70,.16l.70,.16l.70,.16l.70,.16l.70,.16l.70,.16l.70,.16l.70,.15l.70,.15l.70,.15l.70,.15l.70,.15l.70,.15l.70,.15l.70,.15l.70,.15l.70,.15l.70,.15l.70,.15l.70,.15l.70,.15l.70,.15l.70,.15l.70,.15l.70,.15l.70,.15l.70,.14l.70,.14l.70,.14l.70,.14l.70,.14l.70,.14l.70,.14l.70,.14l.70,.14l.70,.14l.70,.14l.70,.14l.70,.14l.70,.14l.70,.14l.70,.13l.70,.13l.70,.13l.70,.13l.70,.13l.70,.13l.70,.13l.70,.13l.70,.13l.70,.13l.70,.13l.70,.13l.70,.13l.70,.13l.70,.13l.70,.13l.70,.12l.70,.12l.70,.12l.70,.12l.70,.12l.70,.12l.70,.12l.70,.12l.70,.12l.70,.12l.70,.12l.70,.12l.70,.12l.70,.12l.70,.12l.70,.12l.70,.12l.70,.11l.70,.11l.70,.11l.70,.11l.70,.11l.70,.11l.70,.11l.70,.11l.70,.11l.70,.11l.70,.11l.70,.11l.70,.11l.70,.11l.70,.11l.70,.11l.70,.11l.70,.11l.70,.10l.70,.10l.70,.10l.70,.10l.70,.10l.70,.10l.70,.10l.70,.10l.70,.10l.70,.10l.70,.10l.70,.10l.70,.10l.70,.10l.70,.10l.70,.10l.70,.10l.70,.10l.70,.10l.70,.10l.70,.09l.70,.09l.70,.09l.70,.09l.70,.09l.70,.09l.70,.09l.70,.09l.70,.09l.70,.09l.70,.09l.70,.09l.70,.09l.70,.09l.70,.09l.70,.09l.70,.09l.70,.09l.70,.09l.70,.09l.70,.09l.70,.09l.70,.09l.70,.09l.70,.08l.70,.08l.70,.08l.70,.08l.70,.08l.70,.08l.70,.08l.70,.08l.70,.08l.70,.08l.70,.08l.70,.08l.70,.08l.70,.08l.70,.08l.70,.08l.70,.08l.70,.08l.70,.08l.70,.08l.70,.08l.70,.08l.70,.08l.70,.08l.70,.08l.70,.08l.70,.08l.70,.08l.70,.07l.70,.07l.70,.07l.70,.07l.70,.07l.70,.07l.70,.07l.70,.07l.70,.07l.70,.07l.70,.07l.70,.07l.70,.07l.70,.07l.70,.07l.70,.07l.70,.07l.70,.07l.70,.07l.70,.07l.70,.07l.70,.07l.70,.07l.70,.07l.70,.07l.70,.07l.70,.07l.70,.07l.70,.07l.70,.07l.70,.07l.70,.07l.70,.07l.70,.07l.70,.07l.70,.07l.70,.07l.70,.06l.70,.06l.70,.06l.70,.06l.70,.06l.70,.06l.70,.06l.70,.06l.70,.06l.70,.06l.70,.06l.70,.06l.70,.06l.70,.06l.70,.06l.70,.06l.70,.06l.70,.06l.70,.06l.70,.06l.70,.06l.70,.06l.70,.06l.70,.06l.70,.06l.70,.06l.70,.06l.70,.06l.70,.06l.70,.06l.70,.06l.70,.06l.70,.06l.70,.06l.70,.06l.70,.06l.70,.06l.70,.06l.70,.06l.70,.06l.70,.06l.70,.06l.70,.06l.70,.06l.70,.06l.70,.06l.70,.06l.70,.06l.70,.06l.70,.06l.70,.06l.70,.06l.70,.06l.70,.06l.70,.06l.70,.06l.70,.06l.70,.06l.70,.06l.70,.06l.70,.06l.70,.06l.70,.06l.70,.06l.70,.06l.70,.06l.70,.06l.70,.06l.70,.06l.70,.06l.70,.06l.70,.06l.70,.06l.70,.06l.70,.06l.70,.06l.70,.06l.70,.06l.70,.06l.70,.06l.70,.06l.70,.06l.70,.06l.70,.06l.70,.06l.70,.06l.70,.05l.70,.05l.70,.05l.70,.05l.70,.05l.70,.05l.70,.05l.70,.05l.70,.05l.70,.05l.70,.05l.70,.05l.70,.05l.70,.05l.70,.05l.70,.05l.70,.05l.70,.05l.70,.05l.70,.05l.70,.05l.70,.05l.70,.05l.70,.05l.70,.05l.70,.05l.70,.05l.70,.05l.70,.05l.70,.05l.70,.05l.70,.05l.70,.05l.70,.05l.70,.05l.70,.05l.70,.05l.70,.05l.70,.05l.70,.05l.70,.05l.70,.05l.70,.05l.70,.04l.70,.04l.70,.04l.70,.04l.70,.04l.70,.04l.70,.04l.70,.04l.70,.04l.70,.04l.70,.04l.70,.04l.70,.04l.70,.04l.70,.04l.70,.04l.70,.04l.70,.04l.70,.04l.70,.04l.70,.04l.70,.04l.70,.04l.70,.04l.70,.04l.70,.04l.70,.04l.70,.03l.70,.03l.70,.03l.70,.03l.70,.03l.70,.03l.70,.03l.70,.03l.70,.03l.70,.03l.70,.03l.70,.03l.70,.03l.70,.03l.70,.03l.70,.03l.70,.03l.70,.03l.70,.03l.70,.03l.70,.03l.70,.03l.70,.02l.70,.02l.70,.02l.70,.02l.70,.02l.70,.02l.70,.02l.70,.02l.70,.02l.70,.02l.70,.02l.70,.02l.70,.02l.70,.02l.70,.02l.70,.02l.70,.02l.70,.02l.70,.02l.70,.01l.70,.01l.70,.01l.70,.01l.70,.01l.70,.01l.70,.01l.70,.01l.70,.01l.70,.01l.70,.01l.70,.01l.70,.01l.70,.01l.70,.01l.70,.01l.70,.01l.70,.00l.70,.00l.70,.00l.70,.00l.70,.00l.70,.00l.70,.00l.70,-.00l.70,-.00l.70,-.00l.70,-.00l.70,-.00l.70,-.00l.70,-.00l.70,-.00l.70,-.00l.70,-.01l.70,-.01l.70,-.01l.70,-.01l.70,-.01l.70,-.01l.70,-.01l.70,-.01l.70,-.01l.70,-.01l.70,-.01l.70,-.01l.70,-.01l.70,-.01l.70,-.01l.70,-.01l.70,-.01l.70,-.01l.70,-.01l.70,-.01l.70,-.01l.70,-.01l.70,-.01l.70,-.01l.70,-.01l.70,-.01l.70,-.01l.70,-.01l.70,-.01l.70,-.01l.70,-.01l.70,-.01l.70,-.01l.70,-.01l.70,-.01l.70,-.01l.70,-.01l.70,-.01l.70,-.01l.70,-.01l.70,-.01l.70,-.01l.70,-.01l.70,-.01l.70,-.00l.70,-.00l.70,-.00l.70,-.00l.70,-.00l.70,-.00l.70,-.00l.70,-.00l.70,-.00l.70,.00l.70,.00l.70,.00l.70,.00l.70,.00l.70,.00l.70,.00l.70,.01l.70,.01l.70,.01l.70,.01l.70,.01l.70,.01l.70,.01l.70,.01l.70,.01l.70,.01l.70,.01l.70,.02l.70,.02l.70,.02l.70,.02l.70,.02l.70,.02l.70,.02l.70,.02l.70,.02l.70,.03l.70,.03l.70,.03l.70,.03l.70,.03l.70,.03l.70,.03l.70,.03l.70,.04l.70,.04l.70,.04l.70,.04l.70,.04l.70,.04l.70,.04l.70,.04l.70,.04l.70,.04l.70,.04l.70,.05l.70,.05l.70,.05l.70,.05l.70,.05l.70,.05l.70,.05l.70,.05l.70,.05l.70,.05l.70,.05l.70,.05l.70,.05l.70,.05l.70,.05l.70,.05l.70,.05l.70,.05l.70,.05l.70,.05l.70,.05l.70,.05l.70,.05l.70,.05l.70,.05l.70,.04l.70,.04l.70,.04l.70,.04l.70,.04l.70,.04l.70,.04l.70,.04l.70,.04l.70,.04l.70,.04l.70,.04l.70,.03l.70,.03l.70,.03l.70,.03l.70,.03l.70,.03l.70,.03l.70,.02l.70,.02l.70,.02l.70,.02l.70,.02l.70,.02l.70,.02l.70,.01l.70,.01l.70,.01l.70,.01l.70,.01l.70,.00l.70,.00l.70,-.00l.70,-.00l.70,-.01l.70,-.01l.70,-.01l.70,-.01l.70,-.01l.70,-.02l.70,-.02l.70,-.02l.70,-.02l.70,-.03l.70,-.03l.70,-.03l.70,-.04l.70,-.04l.70,-.04l.70,-.04l.70,-.05l.70,-.05l.70,-.05l.70,-.05l.70,-.05l.70,-.06l.70,-.06l.70,-.06l.70,-.06l.70,-.06l.70,-.06l.70,-.06l.70,-.06l.70,-.06l.70,-.06l.70,-.06l.70,-.06l.70,-.06l.70,-.06l.70,-.06l.70,-.06l.70,-.06l.70,-.06l.70,-.05l.70,-.05l.70,-.05l.70,-.05l.70,-.05l.70,-.04l.70,-.04l.70,-.04l.70,-.04l.70,-.03l.70,-.03l.70,-.03l.70,-.02l.70,-.02l.70,-.02l.70,-.01l.70,-.01l.70,-.00l.70,.00l.70,.00l.70,.01l.70,.01l.70,.02l.70,.02l.70,.03l.70,.03l.70,.04l.70,.04l.70,.04l.70,.04l.70,.05l.70,.05l.70,.05l.70,.05l.70,.06l.70,.06l.70,.06l.70,.06l.70,.06l.70,.06l.70,.06l.70,.06l.70,.06l.70,.06l.70,.06l.70,.06l.70,.06l.70,.06l.70,.06l.70,.06l.70,.06l.70,.05l.70,.05l.70,.05l.70,.05l.70,.04l.70,.04l.70,.04l.70,.03l.70,.03l.70,.03l.70,.02l.70,.02l.70,.01l.70,.01l.70,.00l.70,-.00l.70,-.00l.70,-.01l.70,-.01l.70,-.02l.70,-.02l.70,-.02l.70,-.02l.70,-.03l.70,-.03l.70,-.03l.70,-.04l.70,-.04l.70,-.04l.70,-.04l.70,-.04l.70,-.05l.70,-.05l.70,-.05l.70,-.05l.70,-.05l.70,-.05l.70,-.05l.70,-.05l.70,-.05l.70,-.05l.70,-.06l.70,-.06l.70,-.06l.70,-.06l.70,-.05l.70,-.05l.70,-.05l.70,-.05l.70,-.05l.70,-.05l.70,-.05l.70,-.05l.70,-.05l.70,-.05l.70,-.04l.70,-.04l.70,-.04l.70,-.04l.70,-.04l.70,-.03l.70,-.03l.70,-.03l.70,-.03l.70,-.02l.70,-.02l.70,-.02l.70,-.01l.70,-.01l.70,-.01l.70,-.00l.70,.00l.70,.01l.70,.01l.70,.02l.70,.02l.70,.02l.70,.03l.70,.03l.70,.04l.70,.04l.70,.05l.70,.06l.70,.06l.70,.07l.70,.07l.70,.08l.70,.08l.70,.09l.70,.09l.70,.09l.70,.09l.70,.09l.70,.10l.70,.10l.70,.10l.70,.10l.70,.09l.70,.09l.70,.09l.70,.09l.70,.08l.70,.08l.70,.08l.70,.07l.70,.07l.70,.06l.70,.05l.70,.05l.70,.04l.70,.03l.70,.02l.70,.01l.70,.01l.70,-.00l.70,-.01l.70,-.02l.70,-.02l.70,-.03l.70,-.04l.70,-.04l.70,-.05l.70,-.05l.70,-.06l.70,-.07l.70,-.07l.70,-.08l.70,-.08l.70,-.09l.70,-.09l.70,-.09l.70,-.10l.70,-.10l.70,-.11l.70,-.11l.70,-.11l.70,-.11l.70,-.12l.70,-.12l.70,-.12l.70,-.12l.70,-.12l.70,-.13l.70,-.13l.70,-.13l.70,-.13l.70,-.13l.70,-.13l.70,-.13l.70,-.13l.70,-.13l.70,-.13l.70,-.12l.70,-.12l.70,-.12l.70,-.12l.70,-.12l.70,-.11l.70,-.11l.70,-.11l.70,-.10l.70,-.10l.70,-.10" fill="none" stroke="none" marker-start="url(#mt)" marker-mid="url(#mt)" marker-end="url(#mt)"/>
</g>
<text transform="translate(1021.4,616.9) scale(0.915,1)" text-anchor="end" font-size="32">0</text>
<text transform="translate(1021.4,497.8) scale(0.915,1)" text-anchor="end" font-size="32">20</text>
<text transform="translate(1021.4,378.7) scale(0.915,1)" text-anchor="end" font-size="32">40</text>
<text transform="translate(1021.4,259.5) scale(0.915,1)" text-anchor="end" font-size="32">60</text>
<text transform="translate(1021.4,140.4) scale(0.915,1)" text-anchor="end" font-size="32">80</text>
<text transform="translate(1021.4,22.3) scale(0.915,1)" text-anchor="end" font-size="32">100</text>
<text transform="translate(1049.7,644.0) scale(0.905,1)" text-anchor="middle" font-size="32">300</text>
<text transform="translate(1154.7,644.0) scale(0.905,1)" text-anchor="middle" font-size="32">600</text>
<text transform="translate(1259.7,644.0) scale(0.905,1)" text-anchor="middle" font-size="32">900</text>
<text transform="translate(1364.7,644.0) scale(0.905,1)" text-anchor="middle" font-size="32">1200</text>
<text transform="translate(1469.8,644.0) scale(0.905,1)" text-anchor="middle" font-size="32">1500</text>
<text transform="translate(1574.8,644.0) scale(0.905,1)" text-anchor="middle" font-size="32">1800</text>
<text transform="translate(1679.8,644.0) scale(0.905,1)" text-anchor="middle" font-size="32">2100</text>
<text transform="translate(1784.8,644.0) scale(0.905,1)" text-anchor="middle" font-size="32">2400</text>
<text class="it" transform="translate(1405.5,65) scale(0.99,1)" font-size="30">(b)</text>
<text class="it" transform="translate(1332.5,687.5) scale(0.905,1)" font-size="32.8">Wavelength, λ (nm)</text>
<text class="it" transform="translate(964.3,361.5) rotate(-90) scale(0.98,1)" font-size="30">Reflection, R%</text>
<line x1="1049" y1="44.0" x2="1101.3" y2="44.0" stroke="#505050" stroke-width="4" stroke-linecap="round"/>
<rect x="1070.7" y="39.8" width="8.6" height="8.4" fill="#fff" stroke="#000" stroke-width="1.2"/>
<rect x="1070.7" y="39.8" width="4.3" height="8.4" fill="#000"/>
<text class="it" transform="translate(1117.5,52.6) scale(0.9,1)" font-size="28.5">263 nm</text>
<line x1="1049" y1="76.5" x2="1101.3" y2="76.5" stroke="#ee3a3a" stroke-width="4" stroke-linecap="round"/>
<circle cx="1075.0" cy="76.5" r="4.5" fill="#fff" stroke="#ff0000" stroke-width="1.2"/>
<path d="M1075.0,72.0 A4.5,4.5 0 0 0 1075.0,81.0Z" fill="#ff0000"/>
<text class="it" transform="translate(1117.5,85.1) scale(0.9,1)" font-size="28.5">317 nm</text>
<line x1="1049" y1="109.0" x2="1101.3" y2="109.0" stroke="#1f62e6" stroke-width="4" stroke-linecap="round"/>
<path d="M1075.0,103.0 L1080.6,112.6 L1069.4,112.6Z" fill="#fff" stroke="#0000ff" stroke-width="1.2"/>
<path d="M1075.0,103.0 L1075.0,112.6 L1069.4,112.6Z" fill="#0000ff"/>
<text class="it" transform="translate(1117.5,117.6) scale(0.9,1)" font-size="28.5">392 nm</text>
<line x1="1049" y1="141.5" x2="1101.3" y2="141.5" stroke="#2ea06c" stroke-width="4" stroke-linecap="round"/>
<path d="M1075.0,135.2 L1080.5,141.5 L1075.0,147.8 L1069.5,141.5Z" fill="#fff" stroke="#1a8a84" stroke-width="1.2"/>
<path d="M1075.0,135.2 L1075.0,147.8 L1069.5,141.5Z" fill="#1a8a84"/>
<text class="it" transform="translate(1117.5,150.1) scale(0.9,1)" font-size="28.5">459 nm</text>
</svg>
</body></html>
